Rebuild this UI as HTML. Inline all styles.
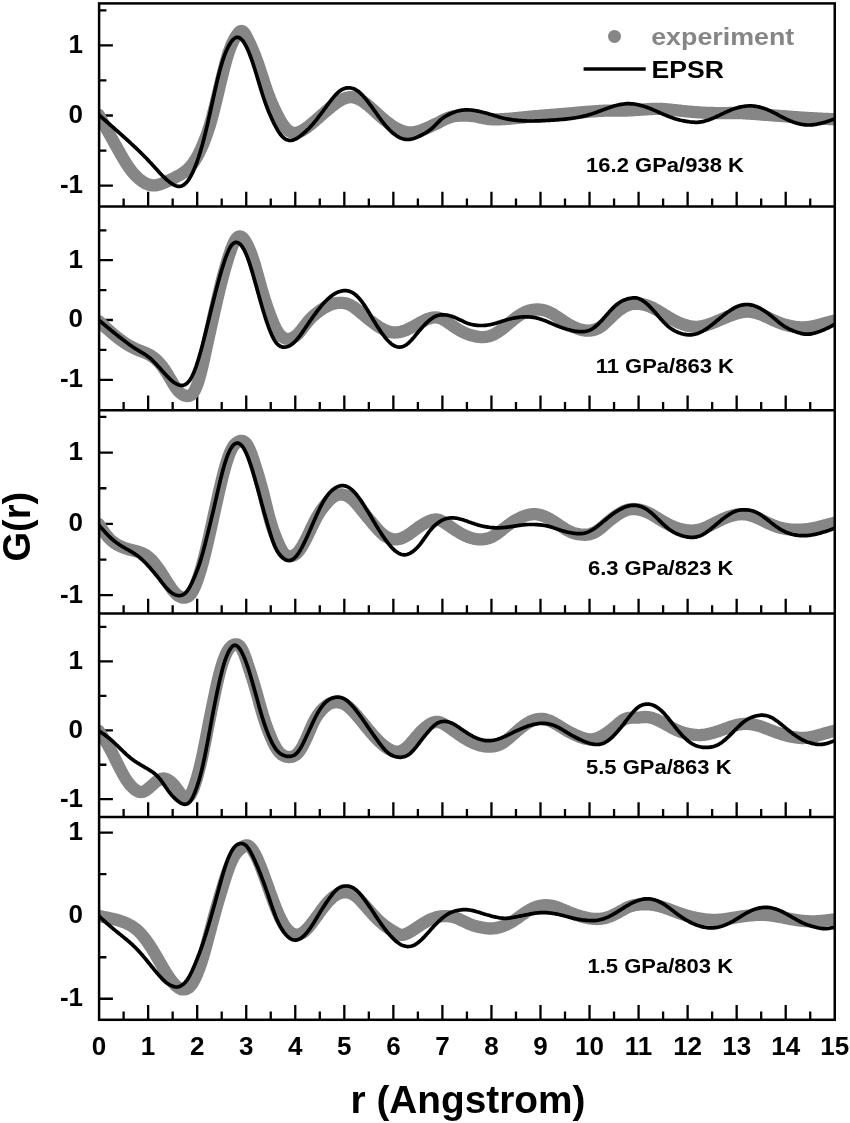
<!DOCTYPE html>
<html><head><meta charset="utf-8"><title>G(r)</title>
<style>html,body{margin:0;padding:0;background:#fff;overflow:hidden}svg{display:block}</style></head>
<body>
<svg width="850" height="1123" viewBox="0 0 850 1123" font-family="'Liberation Sans', sans-serif" font-weight="bold">
<rect width="850" height="1123" fill="#fff"/>
<defs><clipPath id="fr"><rect x="99.1" y="3.4" width="735.65" height="1016.4"/></clipPath></defs>
<path d="M123.62,206.6v-8.2 M148.14,206.6v-14.8 M172.66,206.6v-8.2 M197.19,206.6v-14.8 M221.71,206.6v-8.2 M246.23,206.6v-14.8 M270.75,206.6v-8.2 M295.27,206.6v-14.8 M319.79,206.6v-8.2 M344.32,206.6v-14.8 M368.84,206.6v-8.2 M393.36,206.6v-14.8 M417.88,206.6v-8.2 M442.40,206.6v-14.8 M466.92,206.6v-8.2 M491.45,206.6v-14.8 M515.97,206.6v-8.2 M540.49,206.6v-14.8 M565.01,206.6v-8.2 M589.53,206.6v-14.8 M614.06,206.6v-8.2 M638.58,206.6v-14.8 M663.10,206.6v-8.2 M687.62,206.6v-14.8 M712.14,206.6v-8.2 M736.66,206.6v-14.8 M761.18,206.6v-8.2 M785.71,206.6v-14.8 M810.23,206.6v-8.2 M123.62,410.3v-8.2 M148.14,410.3v-14.8 M172.66,410.3v-8.2 M197.19,410.3v-14.8 M221.71,410.3v-8.2 M246.23,410.3v-14.8 M270.75,410.3v-8.2 M295.27,410.3v-14.8 M319.79,410.3v-8.2 M344.32,410.3v-14.8 M368.84,410.3v-8.2 M393.36,410.3v-14.8 M417.88,410.3v-8.2 M442.40,410.3v-14.8 M466.92,410.3v-8.2 M491.45,410.3v-14.8 M515.97,410.3v-8.2 M540.49,410.3v-14.8 M565.01,410.3v-8.2 M589.53,410.3v-14.8 M614.06,410.3v-8.2 M638.58,410.3v-14.8 M663.10,410.3v-8.2 M687.62,410.3v-14.8 M712.14,410.3v-8.2 M736.66,410.3v-14.8 M761.18,410.3v-8.2 M785.71,410.3v-14.8 M810.23,410.3v-8.2 M123.62,613.5v-8.2 M148.14,613.5v-14.8 M172.66,613.5v-8.2 M197.19,613.5v-14.8 M221.71,613.5v-8.2 M246.23,613.5v-14.8 M270.75,613.5v-8.2 M295.27,613.5v-14.8 M319.79,613.5v-8.2 M344.32,613.5v-14.8 M368.84,613.5v-8.2 M393.36,613.5v-14.8 M417.88,613.5v-8.2 M442.40,613.5v-14.8 M466.92,613.5v-8.2 M491.45,613.5v-14.8 M515.97,613.5v-8.2 M540.49,613.5v-14.8 M565.01,613.5v-8.2 M589.53,613.5v-14.8 M614.06,613.5v-8.2 M638.58,613.5v-14.8 M663.10,613.5v-8.2 M687.62,613.5v-14.8 M712.14,613.5v-8.2 M736.66,613.5v-14.8 M761.18,613.5v-8.2 M785.71,613.5v-14.8 M810.23,613.5v-8.2 M123.62,817.1v-8.2 M148.14,817.1v-14.8 M172.66,817.1v-8.2 M197.19,817.1v-14.8 M221.71,817.1v-8.2 M246.23,817.1v-14.8 M270.75,817.1v-8.2 M295.27,817.1v-14.8 M319.79,817.1v-8.2 M344.32,817.1v-14.8 M368.84,817.1v-8.2 M393.36,817.1v-14.8 M417.88,817.1v-8.2 M442.40,817.1v-14.8 M466.92,817.1v-8.2 M491.45,817.1v-14.8 M515.97,817.1v-8.2 M540.49,817.1v-14.8 M565.01,817.1v-8.2 M589.53,817.1v-14.8 M614.06,817.1v-8.2 M638.58,817.1v-14.8 M663.10,817.1v-8.2 M687.62,817.1v-14.8 M712.14,817.1v-8.2 M736.66,817.1v-14.8 M761.18,817.1v-8.2 M785.71,817.1v-14.8 M810.23,817.1v-8.2 M123.62,1019.8v-8.2 M148.14,1019.8v-14.8 M172.66,1019.8v-8.2 M197.19,1019.8v-14.8 M221.71,1019.8v-8.2 M246.23,1019.8v-14.8 M270.75,1019.8v-8.2 M295.27,1019.8v-14.8 M319.79,1019.8v-8.2 M344.32,1019.8v-14.8 M368.84,1019.8v-8.2 M393.36,1019.8v-14.8 M417.88,1019.8v-8.2 M442.40,1019.8v-14.8 M466.92,1019.8v-8.2 M491.45,1019.8v-14.8 M515.97,1019.8v-8.2 M540.49,1019.8v-14.8 M565.01,1019.8v-8.2 M589.53,1019.8v-14.8 M614.06,1019.8v-8.2 M638.58,1019.8v-14.8 M663.10,1019.8v-8.2 M687.62,1019.8v-14.8 M712.14,1019.8v-8.2 M736.66,1019.8v-14.8 M761.18,1019.8v-8.2 M785.71,1019.8v-14.8 M810.23,1019.8v-8.2 M99.1,45.40h13.8 M99.1,115.50h13.8 M99.1,185.60h13.8 M99.1,10.35h7.3 M99.1,80.45h7.3 M99.1,150.55h7.3 M99.1,260.20h13.8 M99.1,320.00h13.8 M99.1,379.80h13.8 M99.1,230.30h7.3 M99.1,290.10h7.3 M99.1,349.90h7.3 M99.1,452.60h13.8 M99.1,523.90h13.8 M99.1,595.20h13.8 M99.1,416.95h7.3 M99.1,488.25h7.3 M99.1,559.55h7.3 M99.1,661.40h13.8 M99.1,730.30h13.8 M99.1,799.20h13.8 M99.1,626.95h7.3 M99.1,695.85h7.3 M99.1,764.75h7.3 M99.1,832.65h13.8 M99.1,915.70h13.8 M99.1,998.75h13.8 M99.1,874.18h7.3 M99.1,957.23h7.3" stroke="#000" stroke-width="2.3" fill="none"/>
<g clip-path="url(#fr)" fill="none" stroke-linejoin="round" stroke-linecap="round">
<path d="M98.8,115.0 L99.8,116.8 L100.8,118.6 L101.8,120.4 L102.8,122.2 L103.8,124.0 L104.8,125.8 L105.8,127.6 L106.8,129.4 L107.8,131.2 L108.8,133.0 L109.8,134.8 L110.8,136.6 L111.8,138.3 L112.8,140.1 L113.8,141.9 L114.8,143.7 L115.8,145.5 L116.8,147.3 L117.8,149.1 L118.8,150.8 L119.8,152.6 L120.8,154.4 L121.8,156.1 L122.8,157.8 L123.8,159.5 L124.8,161.2 L125.8,162.8 L126.8,164.4 L127.8,165.9 L128.8,167.4 L129.8,168.8 L130.8,170.1 L131.8,171.4 L132.8,172.6 L133.8,173.7 L134.8,174.8 L135.8,175.9 L136.8,176.8 L137.8,177.8 L138.8,178.7 L139.8,179.5 L140.8,180.3 L141.8,181.0 L142.8,181.7 L143.8,182.3 L144.8,182.9 L145.8,183.4 L146.8,183.9 L147.8,184.3 L148.8,184.6 L149.8,184.9 L150.8,185.1 L151.8,185.3 L152.8,185.4 L153.8,185.4 L154.8,185.4 L155.8,185.3 L156.8,185.1 L157.8,184.9 L158.8,184.6 L159.8,184.3 L160.8,184.0 L161.8,183.6 L162.8,183.2 L163.8,182.8 L164.8,182.4 L165.8,181.9 L166.8,181.5 L167.8,181.0 L168.8,180.5 L169.8,180.1 L170.8,179.6 L171.8,179.1 L172.8,178.7 L173.8,178.2 L174.8,177.7 L175.8,177.1 L176.8,176.6 L177.8,176.1 L178.8,175.5 L179.8,174.9 L180.8,174.4 L181.8,173.8 L182.8,173.1 L183.8,172.4 L184.8,171.7 L185.8,170.9 L186.8,170.1 L187.8,169.2 L188.8,168.2 L189.8,167.2 L190.8,166.0 L191.8,164.8 L192.8,163.5 L193.8,162.0 L194.8,160.5 L195.8,158.9 L196.8,157.2 L197.8,155.4 L198.8,153.5 L199.8,151.4 L200.8,149.3 L201.8,147.1 L202.8,144.9 L203.8,142.4 L204.8,139.9 L205.8,137.3 L206.8,134.5 L207.8,131.6 L208.8,128.5 L209.8,125.3 L210.8,121.9 L211.8,118.3 L212.8,114.6 L213.8,110.7 L214.8,106.8 L215.8,102.7 L216.8,98.5 L217.8,94.3 L218.8,90.1 L219.8,85.9 L220.8,81.7 L221.8,77.6 L222.8,73.5 L223.8,69.5 L224.8,65.7 L225.8,61.9 L226.8,58.4 L227.8,55.1 L228.8,52.0 L229.8,49.2 L230.8,46.6 L231.8,44.2 L232.8,42.1 L233.8,40.1 L234.8,38.3 L235.8,36.6 L236.8,35.1 L237.8,33.7 L238.8,32.5 L239.8,31.6 L240.8,31.1 L241.8,31.0 L242.8,31.4 L243.8,32.3 L244.8,33.6 L245.8,35.1 L246.8,37.0 L247.8,39.0 L248.8,41.1 L249.8,43.2 L250.8,45.4 L251.8,47.7 L252.8,50.0 L253.8,52.4 L254.8,54.8 L255.8,57.4 L256.8,60.1 L257.8,62.9 L258.8,65.8 L259.8,68.7 L260.8,71.8 L261.8,74.9 L262.8,78.0 L263.8,81.1 L264.8,84.2 L265.8,87.1 L266.8,90.1 L267.8,92.9 L268.8,95.5 L269.8,98.1 L270.8,100.6 L271.8,103.0 L272.8,105.3 L273.8,107.5 L274.8,109.6 L275.8,111.7 L276.8,113.7 L277.8,115.7 L278.8,117.6 L279.8,119.4 L280.8,121.2 L281.8,122.8 L282.8,124.4 L283.8,125.8 L284.8,127.1 L285.8,128.3 L286.8,129.3 L287.8,130.2 L288.8,131.0 L289.8,131.6 L290.8,132.1 L291.8,132.5 L292.8,132.7 L293.8,132.9 L294.8,132.9 L295.8,132.9 L296.8,132.7 L297.8,132.5 L298.8,132.2 L299.8,131.8 L300.8,131.3 L301.8,130.8 L302.8,130.2 L303.8,129.6 L304.8,129.0 L305.8,128.3 L306.8,127.6 L307.8,126.8 L308.8,126.0 L309.8,125.3 L310.8,124.4 L311.8,123.6 L312.8,122.8 L313.8,121.9 L314.8,121.1 L315.8,120.2 L316.8,119.3 L317.8,118.4 L318.8,117.6 L319.8,116.7 L320.8,115.8 L321.8,114.9 L322.8,114.0 L323.8,113.2 L324.8,112.3 L325.8,111.4 L326.8,110.6 L327.8,109.8 L328.8,108.9 L329.8,108.1 L330.8,107.3 L331.8,106.5 L332.8,105.7 L333.8,104.9 L334.8,104.2 L335.8,103.4 L336.8,102.7 L337.8,102.0 L338.8,101.4 L339.8,100.7 L340.8,100.2 L341.8,99.6 L342.8,99.1 L343.8,98.7 L344.8,98.3 L345.8,97.9 L346.8,97.7 L347.8,97.5 L348.8,97.3 L349.8,97.2 L350.8,97.2 L351.8,97.2 L352.8,97.3 L353.8,97.5 L354.8,97.7 L355.8,98.0 L356.8,98.3 L357.8,98.7 L358.8,99.2 L359.8,99.7 L360.8,100.2 L361.8,100.8 L362.8,101.5 L363.8,102.1 L364.8,102.9 L365.8,103.6 L366.8,104.4 L367.8,105.2 L368.8,106.0 L369.8,106.9 L370.8,107.7 L371.8,108.6 L372.8,109.5 L373.8,110.4 L374.8,111.3 L375.8,112.3 L376.8,113.2 L377.8,114.1 L378.8,115.0 L379.8,115.9 L380.8,116.8 L381.8,117.7 L382.8,118.5 L383.8,119.4 L384.8,120.2 L385.8,121.0 L386.8,121.8 L387.8,122.6 L388.8,123.4 L389.8,124.1 L390.8,124.8 L391.8,125.5 L392.8,126.2 L393.8,126.8 L394.8,127.4 L395.8,128.0 L396.8,128.5 L397.8,129.1 L398.8,129.5 L399.8,130.0 L400.8,130.4 L401.8,130.8 L402.8,131.1 L403.8,131.4 L404.8,131.7 L405.8,132.0 L406.8,132.2 L407.8,132.3 L408.8,132.4 L409.8,132.5 L410.8,132.5 L411.8,132.5 L412.8,132.4 L413.8,132.3 L414.8,132.1 L415.8,131.9 L416.8,131.7 L417.8,131.4 L418.8,131.1 L419.8,130.8 L420.8,130.4 L421.8,130.1 L422.8,129.7 L423.8,129.3 L424.8,128.9 L425.8,128.5 L426.8,128.0 L427.8,127.6 L428.8,127.2 L429.8,126.7 L430.8,126.2 L431.8,125.8 L432.8,125.3 L433.8,124.8 L434.8,124.3 L435.8,123.9 L436.8,123.4 L437.8,122.9 L438.8,122.4 L439.8,121.9 L440.8,121.3 L441.8,120.8 L442.8,120.3 L443.8,119.8 L444.8,119.3 L445.8,118.9 L446.8,118.4 L447.8,118.0 L448.8,117.6 L449.8,117.3 L450.8,117.0 L451.8,116.7 L452.8,116.5 L453.8,116.3 L454.8,116.1 L455.8,116.0 L456.8,115.9 L457.8,115.8 L458.8,115.7 L459.8,115.7 L460.8,115.6 L461.8,115.6 L462.8,115.6 L463.8,115.6 L464.8,115.6 L465.8,115.6 L466.8,115.6 L467.8,115.6 L468.8,115.7 L469.8,115.8 L470.8,115.8 L471.8,115.9 L472.8,116.1 L473.8,116.2 L474.8,116.3 L475.8,116.5 L476.8,116.7 L477.8,116.9 L478.8,117.2 L479.8,117.4 L480.8,117.6 L481.8,117.8 L482.8,118.0 L483.8,118.3 L484.8,118.5 L485.8,118.6 L486.8,118.8 L487.8,118.9 L488.8,119.1 L489.8,119.2 L490.8,119.2 L491.8,119.3 L492.8,119.3 L493.8,119.4 L494.8,119.4 L495.8,119.4 L496.8,119.4 L497.8,119.3 L498.8,119.3 L499.8,119.3 L500.8,119.2 L501.8,119.2 L502.8,119.1 L503.8,119.1 L504.8,119.0 L505.8,119.0 L506.8,118.9 L507.8,118.8 L508.8,118.8 L509.8,118.7 L510.8,118.6 L511.8,118.5 L512.8,118.4 L513.8,118.3 L514.8,118.2 L515.8,118.1 L516.8,118.0 L517.8,117.9 L518.8,117.8 L519.8,117.7 L520.8,117.6 L521.8,117.5 L522.8,117.4 L523.8,117.3 L524.8,117.2 L525.8,117.1 L526.8,117.0 L527.8,116.9 L528.8,116.8 L529.8,116.7 L530.8,116.6 L531.8,116.5 L532.8,116.4 L533.8,116.3 L534.8,116.2 L535.8,116.2 L536.8,116.1 L537.8,116.0 L538.8,115.9 L539.8,115.8 L540.8,115.7 L541.8,115.6 L542.8,115.6 L543.8,115.5 L544.8,115.4 L545.8,115.3 L546.8,115.2 L547.8,115.2 L548.8,115.1 L549.8,115.0 L550.8,114.9 L551.8,114.8 L552.8,114.8 L553.8,114.7 L554.8,114.6 L555.8,114.5 L556.8,114.4 L557.8,114.4 L558.8,114.3 L559.8,114.2 L560.8,114.1 L561.8,114.0 L562.8,114.0 L563.8,113.9 L564.8,113.8 L565.8,113.7 L566.8,113.6 L567.8,113.5 L568.8,113.4 L569.8,113.3 L570.8,113.3 L571.8,113.2 L572.8,113.1 L573.8,113.0 L574.8,112.9 L575.8,112.8 L576.8,112.7 L577.8,112.6 L578.8,112.5 L579.8,112.5 L580.8,112.4 L581.8,112.3 L582.8,112.2 L583.8,112.1 L584.8,112.0 L585.8,112.0 L586.8,111.9 L587.8,111.8 L588.8,111.7 L589.8,111.6 L590.8,111.6 L591.8,111.5 L592.8,111.4 L593.8,111.3 L594.8,111.3 L595.8,111.2 L596.8,111.1 L597.8,111.1 L598.8,111.0 L599.8,110.9 L600.8,110.9 L601.8,110.8 L602.8,110.8 L603.8,110.7 L604.8,110.7 L605.8,110.7 L606.8,110.6 L607.8,110.6 L608.8,110.6 L609.8,110.6 L610.8,110.6 L611.8,110.6 L612.8,110.6 L613.8,110.6 L614.8,110.6 L615.8,110.6 L616.8,110.6 L617.8,110.6 L618.8,110.6 L619.8,110.6 L620.8,110.6 L621.8,110.6 L622.8,110.6 L623.8,110.6 L624.8,110.6 L625.8,110.5 L626.8,110.5 L627.8,110.5 L628.8,110.4 L629.8,110.4 L630.8,110.3 L631.8,110.3 L632.8,110.2 L633.8,110.1 L634.8,110.1 L635.8,110.0 L636.8,109.9 L637.8,109.9 L638.8,109.8 L639.8,109.7 L640.8,109.7 L641.8,109.6 L642.8,109.5 L643.8,109.5 L644.8,109.4 L645.8,109.3 L646.8,109.3 L647.8,109.2 L648.8,109.2 L649.8,109.1 L650.8,109.0 L651.8,109.0 L652.8,109.0 L653.8,108.9 L654.8,108.9 L655.8,108.9 L656.8,108.9 L657.8,108.9 L658.8,108.9 L659.8,108.9 L660.8,108.9 L661.8,109.0 L662.8,109.0 L663.8,109.1 L664.8,109.1 L665.8,109.2 L666.8,109.3 L667.8,109.4 L668.8,109.5 L669.8,109.6 L670.8,109.7 L671.8,109.8 L672.8,109.9 L673.8,110.0 L674.8,110.1 L675.8,110.2 L676.8,110.3 L677.8,110.4 L678.8,110.5 L679.8,110.6 L680.8,110.8 L681.8,110.9 L682.8,111.0 L683.8,111.1 L684.8,111.2 L685.8,111.3 L686.8,111.4 L687.8,111.5 L688.8,111.6 L689.8,111.7 L690.8,111.7 L691.8,111.8 L692.8,111.9 L693.8,112.0 L694.8,112.1 L695.8,112.2 L696.8,112.2 L697.8,112.3 L698.8,112.4 L699.8,112.4 L700.8,112.5 L701.8,112.6 L702.8,112.6 L703.8,112.7 L704.8,112.7 L705.8,112.8 L706.8,112.8 L707.8,112.9 L708.8,112.9 L709.8,112.9 L710.8,113.0 L711.8,113.0 L712.8,113.0 L713.8,113.0 L714.8,113.1 L715.8,113.1 L716.8,113.1 L717.8,113.1 L718.8,113.1 L719.8,113.1 L720.8,113.1 L721.8,113.1 L722.8,113.1 L723.8,113.1 L724.8,113.1 L725.8,113.1 L726.8,113.1 L727.8,113.1 L728.8,113.0 L729.8,113.0 L730.8,113.0 L731.8,113.0 L732.8,113.0 L733.8,113.0 L734.8,113.0 L735.8,113.0 L736.8,113.1 L737.8,113.1 L738.8,113.1 L739.8,113.1 L740.8,113.2 L741.8,113.2 L742.8,113.2 L743.8,113.3 L744.8,113.3 L745.8,113.4 L746.8,113.5 L747.8,113.5 L748.8,113.6 L749.8,113.7 L750.8,113.7 L751.8,113.8 L752.8,113.9 L753.8,113.9 L754.8,114.0 L755.8,114.1 L756.8,114.2 L757.8,114.2 L758.8,114.3 L759.8,114.4 L760.8,114.5 L761.8,114.6 L762.8,114.6 L763.8,114.7 L764.8,114.8 L765.8,114.9 L766.8,114.9 L767.8,115.0 L768.8,115.1 L769.8,115.2 L770.8,115.2 L771.8,115.3 L772.8,115.4 L773.8,115.5 L774.8,115.5 L775.8,115.6 L776.8,115.7 L777.8,115.8 L778.8,115.8 L779.8,115.9 L780.8,116.0 L781.8,116.1 L782.8,116.2 L783.8,116.2 L784.8,116.3 L785.8,116.4 L786.8,116.5 L787.8,116.5 L788.8,116.6 L789.8,116.7 L790.8,116.8 L791.8,116.8 L792.8,116.9 L793.8,117.0 L794.8,117.1 L795.8,117.1 L796.8,117.2 L797.8,117.3 L798.8,117.4 L799.8,117.4 L800.8,117.5 L801.8,117.6 L802.8,117.6 L803.8,117.7 L804.8,117.8 L805.8,117.8 L806.8,117.9 L807.8,117.9 L808.8,118.0 L809.8,118.1 L810.8,118.1 L811.8,118.2 L812.8,118.2 L813.8,118.3 L814.8,118.3 L815.8,118.4 L816.8,118.5 L817.8,118.5 L818.8,118.6 L819.8,118.6 L820.8,118.7 L821.8,118.7 L822.8,118.8 L823.8,118.8 L824.8,118.9 L825.8,118.9 L826.8,118.9 L827.8,119.0 L828.8,119.0 L829.8,119.1 L830.8,119.1 L831.8,119.2 L832.8,119.2 L833.8,119.3 L834.5,119.3" stroke="#868686" stroke-width="12.3"/>
<path d="M98.8,321.1 L99.8,322.0 L100.8,323.0 L101.8,323.9 L102.8,324.8 L103.8,325.7 L104.8,326.6 L105.8,327.6 L106.8,328.5 L107.8,329.4 L108.8,330.3 L109.8,331.1 L110.8,332.0 L111.8,332.9 L112.8,333.7 L113.8,334.6 L114.8,335.4 L115.8,336.2 L116.8,337.0 L117.8,337.8 L118.8,338.6 L119.8,339.3 L120.8,340.1 L121.8,340.8 L122.8,341.5 L123.8,342.2 L124.8,342.9 L125.8,343.5 L126.8,344.2 L127.8,344.8 L128.8,345.4 L129.8,346.0 L130.8,346.6 L131.8,347.1 L132.8,347.6 L133.8,348.1 L134.8,348.6 L135.8,349.0 L136.8,349.5 L137.8,349.9 L138.8,350.3 L139.8,350.7 L140.8,351.0 L141.8,351.4 L142.8,351.8 L143.8,352.2 L144.8,352.6 L145.8,353.0 L146.8,353.5 L147.8,353.9 L148.8,354.5 L149.8,355.0 L150.8,355.6 L151.8,356.3 L152.8,356.9 L153.8,357.7 L154.8,358.5 L155.8,359.3 L156.8,360.3 L157.8,361.2 L158.8,362.3 L159.8,363.4 L160.8,364.6 L161.8,365.8 L162.8,367.1 L163.8,368.5 L164.8,370.0 L165.8,371.5 L166.8,373.0 L167.8,374.6 L168.8,376.3 L169.8,378.0 L170.8,379.7 L171.8,381.4 L172.8,383.1 L173.8,384.7 L174.8,386.3 L175.8,387.8 L176.8,389.1 L177.8,390.4 L178.8,391.5 L179.8,392.5 L180.8,393.3 L181.8,394.1 L182.8,394.7 L183.8,395.2 L184.8,395.6 L185.8,395.8 L186.8,396.0 L187.8,396.0 L188.8,395.9 L189.8,395.6 L190.8,395.1 L191.8,394.4 L192.8,393.3 L193.8,392.0 L194.8,390.3 L195.8,388.2 L196.8,385.9 L197.8,383.1 L198.8,380.1 L199.8,376.6 L200.8,372.9 L201.8,368.8 L202.8,364.5 L203.8,360.1 L204.8,355.5 L205.8,350.9 L206.8,346.3 L207.8,341.7 L208.8,337.1 L209.8,332.6 L210.8,328.1 L211.8,323.6 L212.8,319.1 L213.8,314.6 L214.8,310.2 L215.8,305.8 L216.8,301.4 L217.8,297.1 L218.8,292.9 L219.8,288.7 L220.8,284.7 L221.8,280.7 L222.8,276.9 L223.8,273.2 L224.8,269.6 L225.8,266.1 L226.8,262.7 L227.8,259.4 L228.8,256.2 L229.8,253.2 L230.8,250.2 L231.8,247.5 L232.8,245.0 L233.8,242.8 L234.8,240.9 L235.8,239.2 L236.8,238.0 L237.8,237.1 L238.8,236.5 L239.8,236.4 L240.8,236.5 L241.8,237.0 L242.8,237.9 L243.8,239.0 L244.8,240.3 L245.8,241.9 L246.8,243.7 L247.8,245.6 L248.8,247.8 L249.8,250.1 L250.8,252.6 L251.8,255.3 L252.8,258.2 L253.8,261.3 L254.8,264.6 L255.8,268.1 L256.8,271.6 L257.8,275.2 L258.8,278.9 L259.8,282.5 L260.8,286.1 L261.8,289.6 L262.8,293.0 L263.8,296.3 L264.8,299.5 L265.8,302.6 L266.8,305.6 L267.8,308.5 L268.8,311.3 L269.8,314.1 L270.8,316.7 L271.8,319.3 L272.8,321.8 L273.8,324.1 L274.8,326.3 L275.8,328.4 L276.8,330.2 L277.8,331.9 L278.8,333.4 L279.8,334.7 L280.8,335.7 L281.8,336.6 L282.8,337.3 L283.8,337.9 L284.8,338.3 L285.8,338.6 L286.8,338.8 L287.8,338.9 L288.8,338.8 L289.8,338.7 L290.8,338.5 L291.8,338.2 L292.8,337.8 L293.8,337.3 L294.8,336.6 L295.8,335.9 L296.8,335.0 L297.8,334.1 L298.8,333.0 L299.8,331.9 L300.8,330.6 L301.8,329.4 L302.8,328.1 L303.8,326.8 L304.8,325.5 L305.8,324.2 L306.8,322.9 L307.8,321.7 L308.8,320.5 L309.8,319.4 L310.8,318.3 L311.8,317.3 L312.8,316.4 L313.8,315.5 L314.8,314.6 L315.8,313.8 L316.8,313.0 L317.8,312.2 L318.8,311.5 L319.8,310.7 L320.8,310.0 L321.8,309.4 L322.8,308.7 L323.8,308.1 L324.8,307.5 L325.8,306.9 L326.8,306.4 L327.8,305.9 L328.8,305.4 L329.8,305.0 L330.8,304.6 L331.8,304.2 L332.8,303.9 L333.8,303.6 L334.8,303.4 L335.8,303.2 L336.8,303.0 L337.8,302.9 L338.8,302.8 L339.8,302.8 L340.8,302.8 L341.8,302.8 L342.8,302.9 L343.8,303.0 L344.8,303.2 L345.8,303.4 L346.8,303.7 L347.8,304.0 L348.8,304.4 L349.8,304.8 L350.8,305.3 L351.8,305.9 L352.8,306.5 L353.8,307.1 L354.8,307.9 L355.8,308.6 L356.8,309.4 L357.8,310.2 L358.8,311.0 L359.8,311.9 L360.8,312.7 L361.8,313.6 L362.8,314.4 L363.8,315.3 L364.8,316.1 L365.8,317.0 L366.8,317.8 L367.8,318.6 L368.8,319.4 L369.8,320.2 L370.8,321.0 L371.8,321.8 L372.8,322.5 L373.8,323.3 L374.8,324.0 L375.8,324.7 L376.8,325.4 L377.8,326.1 L378.8,326.8 L379.8,327.4 L380.8,328.0 L381.8,328.6 L382.8,329.1 L383.8,329.7 L384.8,330.1 L385.8,330.6 L386.8,330.9 L387.8,331.3 L388.8,331.6 L389.8,331.9 L390.8,332.1 L391.8,332.3 L392.8,332.4 L393.8,332.5 L394.8,332.5 L395.8,332.5 L396.8,332.4 L397.8,332.3 L398.8,332.2 L399.8,332.0 L400.8,331.8 L401.8,331.5 L402.8,331.2 L403.8,330.9 L404.8,330.6 L405.8,330.2 L406.8,329.8 L407.8,329.3 L408.8,328.8 L409.8,328.3 L410.8,327.8 L411.8,327.3 L412.8,326.8 L413.8,326.2 L414.8,325.7 L415.8,325.1 L416.8,324.5 L417.8,324.0 L418.8,323.4 L419.8,322.8 L420.8,322.3 L421.8,321.7 L422.8,321.2 L423.8,320.7 L424.8,320.2 L425.8,319.8 L426.8,319.3 L427.8,318.9 L428.8,318.6 L429.8,318.3 L430.8,318.0 L431.8,317.8 L432.8,317.6 L433.8,317.5 L434.8,317.4 L435.8,317.4 L436.8,317.5 L437.8,317.6 L438.8,317.8 L439.8,318.1 L440.8,318.4 L441.8,318.8 L442.8,319.3 L443.8,319.9 L444.8,320.4 L445.8,321.1 L446.8,321.7 L447.8,322.4 L448.8,323.1 L449.8,323.8 L450.8,324.5 L451.8,325.2 L452.8,325.9 L453.8,326.6 L454.8,327.3 L455.8,327.9 L456.8,328.6 L457.8,329.2 L458.8,329.8 L459.8,330.4 L460.8,331.0 L461.8,331.5 L462.8,332.1 L463.8,332.5 L464.8,333.0 L465.8,333.4 L466.8,333.8 L467.8,334.2 L468.8,334.5 L469.8,334.8 L470.8,335.2 L471.8,335.4 L472.8,335.7 L473.8,335.9 L474.8,336.2 L475.8,336.4 L476.8,336.6 L477.8,336.7 L478.8,336.9 L479.8,337.0 L480.8,337.1 L481.8,337.1 L482.8,337.1 L483.8,337.1 L484.8,337.0 L485.8,336.9 L486.8,336.7 L487.8,336.5 L488.8,336.3 L489.8,336.0 L490.8,335.6 L491.8,335.3 L492.8,334.9 L493.8,334.4 L494.8,333.9 L495.8,333.3 L496.8,332.8 L497.8,332.1 L498.8,331.5 L499.8,330.8 L500.8,330.1 L501.8,329.3 L502.8,328.6 L503.8,327.8 L504.8,327.0 L505.8,326.2 L506.8,325.3 L507.8,324.5 L508.8,323.6 L509.8,322.8 L510.8,321.9 L511.8,321.1 L512.8,320.3 L513.8,319.4 L514.8,318.6 L515.8,317.9 L516.8,317.1 L517.8,316.4 L518.8,315.7 L519.8,315.0 L520.8,314.4 L521.8,313.8 L522.8,313.2 L523.8,312.7 L524.8,312.2 L525.8,311.8 L526.8,311.4 L527.8,311.0 L528.8,310.7 L529.8,310.4 L530.8,310.2 L531.8,310.0 L532.8,309.8 L533.8,309.7 L534.8,309.6 L535.8,309.5 L536.8,309.5 L537.8,309.5 L538.8,309.5 L539.8,309.6 L540.8,309.7 L541.8,309.9 L542.8,310.1 L543.8,310.3 L544.8,310.5 L545.8,310.8 L546.8,311.2 L547.8,311.6 L548.8,312.0 L549.8,312.5 L550.8,313.0 L551.8,313.5 L552.8,314.1 L553.8,314.6 L554.8,315.3 L555.8,315.9 L556.8,316.5 L557.8,317.2 L558.8,317.9 L559.8,318.6 L560.8,319.2 L561.8,319.9 L562.8,320.6 L563.8,321.2 L564.8,321.9 L565.8,322.5 L566.8,323.2 L567.8,323.8 L568.8,324.4 L569.8,324.9 L570.8,325.5 L571.8,326.0 L572.8,326.6 L573.8,327.0 L574.8,327.5 L575.8,327.9 L576.8,328.3 L577.8,328.7 L578.8,329.1 L579.8,329.4 L580.8,329.7 L581.8,329.9 L582.8,330.1 L583.8,330.3 L584.8,330.4 L585.8,330.6 L586.8,330.6 L587.8,330.6 L588.8,330.6 L589.8,330.6 L590.8,330.5 L591.8,330.3 L592.8,330.1 L593.8,329.9 L594.8,329.6 L595.8,329.3 L596.8,328.8 L597.8,328.4 L598.8,327.9 L599.8,327.3 L600.8,326.6 L601.8,325.9 L602.8,325.1 L603.8,324.2 L604.8,323.4 L605.8,322.4 L606.8,321.5 L607.8,320.5 L608.8,319.6 L609.8,318.6 L610.8,317.6 L611.8,316.7 L612.8,315.7 L613.8,314.8 L614.8,313.9 L615.8,313.0 L616.8,312.2 L617.8,311.3 L618.8,310.5 L619.8,309.8 L620.8,309.1 L621.8,308.4 L622.8,307.8 L623.8,307.2 L624.8,306.6 L625.8,306.1 L626.8,305.7 L627.8,305.2 L628.8,304.9 L629.8,304.6 L630.8,304.3 L631.8,304.1 L632.8,304.0 L633.8,303.9 L634.8,303.8 L635.8,303.8 L636.8,303.8 L637.8,303.8 L638.8,303.9 L639.8,304.0 L640.8,304.1 L641.8,304.3 L642.8,304.4 L643.8,304.6 L644.8,304.9 L645.8,305.1 L646.8,305.4 L647.8,305.8 L648.8,306.1 L649.8,306.5 L650.8,306.9 L651.8,307.4 L652.8,307.8 L653.8,308.4 L654.8,308.9 L655.8,309.4 L656.8,310.0 L657.8,310.6 L658.8,311.2 L659.8,311.8 L660.8,312.4 L661.8,313.0 L662.8,313.6 L663.8,314.3 L664.8,314.9 L665.8,315.5 L666.8,316.1 L667.8,316.8 L668.8,317.4 L669.8,318.0 L670.8,318.5 L671.8,319.1 L672.8,319.7 L673.8,320.2 L674.8,320.8 L675.8,321.3 L676.8,321.8 L677.8,322.2 L678.8,322.7 L679.8,323.1 L680.8,323.5 L681.8,323.9 L682.8,324.3 L683.8,324.6 L684.8,324.9 L685.8,325.2 L686.8,325.5 L687.8,325.8 L688.8,326.0 L689.8,326.2 L690.8,326.4 L691.8,326.5 L692.8,326.6 L693.8,326.7 L694.8,326.8 L695.8,326.8 L696.8,326.8 L697.8,326.8 L698.8,326.7 L699.8,326.6 L700.8,326.4 L701.8,326.2 L702.8,326.0 L703.8,325.8 L704.8,325.6 L705.8,325.3 L706.8,325.0 L707.8,324.7 L708.8,324.4 L709.8,324.0 L710.8,323.7 L711.8,323.3 L712.8,322.9 L713.8,322.5 L714.8,322.1 L715.8,321.7 L716.8,321.3 L717.8,320.8 L718.8,320.4 L719.8,320.0 L720.8,319.6 L721.8,319.1 L722.8,318.7 L723.8,318.3 L724.8,317.9 L725.8,317.5 L726.8,317.0 L727.8,316.6 L728.8,316.2 L729.8,315.9 L730.8,315.5 L731.8,315.1 L732.8,314.8 L733.8,314.4 L734.8,314.1 L735.8,313.7 L736.8,313.4 L737.8,313.1 L738.8,312.9 L739.8,312.6 L740.8,312.4 L741.8,312.2 L742.8,312.0 L743.8,311.9 L744.8,311.8 L745.8,311.7 L746.8,311.7 L747.8,311.7 L748.8,311.7 L749.8,311.8 L750.8,311.9 L751.8,312.0 L752.8,312.2 L753.8,312.4 L754.8,312.6 L755.8,312.9 L756.8,313.2 L757.8,313.5 L758.8,313.8 L759.8,314.2 L760.8,314.5 L761.8,314.9 L762.8,315.3 L763.8,315.8 L764.8,316.2 L765.8,316.7 L766.8,317.1 L767.8,317.6 L768.8,318.1 L769.8,318.5 L770.8,319.0 L771.8,319.5 L772.8,320.0 L773.8,320.4 L774.8,320.9 L775.8,321.3 L776.8,321.7 L777.8,322.1 L778.8,322.5 L779.8,322.9 L780.8,323.3 L781.8,323.6 L782.8,324.0 L783.8,324.3 L784.8,324.6 L785.8,324.9 L786.8,325.2 L787.8,325.4 L788.8,325.7 L789.8,325.9 L790.8,326.1 L791.8,326.3 L792.8,326.5 L793.8,326.7 L794.8,326.8 L795.8,326.9 L796.8,327.0 L797.8,327.1 L798.8,327.2 L799.8,327.3 L800.8,327.3 L801.8,327.3 L802.8,327.3 L803.8,327.3 L804.8,327.3 L805.8,327.2 L806.8,327.1 L807.8,327.0 L808.8,326.9 L809.8,326.8 L810.8,326.7 L811.8,326.5 L812.8,326.3 L813.8,326.1 L814.8,325.9 L815.8,325.7 L816.8,325.4 L817.8,325.2 L818.8,324.9 L819.8,324.6 L820.8,324.3 L821.8,324.1 L822.8,323.8 L823.8,323.5 L824.8,323.2 L825.8,322.9 L826.8,322.7 L827.8,322.4 L828.8,322.1 L829.8,321.8 L830.8,321.6 L831.8,321.3 L832.8,321.0 L833.8,320.8 L834.5,320.6" stroke="#868686" stroke-width="12.3"/>
<path d="M98.8,524.1 L99.8,525.6 L100.8,527.2 L101.8,528.7 L102.8,530.2 L103.8,531.6 L104.8,533.0 L105.8,534.4 L106.8,535.6 L107.8,536.8 L108.8,538.0 L109.8,539.0 L110.8,540.0 L111.8,540.8 L112.8,541.7 L113.8,542.4 L114.8,543.1 L115.8,543.8 L116.8,544.4 L117.8,544.9 L118.8,545.5 L119.8,545.9 L120.8,546.4 L121.8,546.9 L122.8,547.3 L123.8,547.7 L124.8,548.1 L125.8,548.4 L126.8,548.7 L127.8,549.1 L128.8,549.4 L129.8,549.6 L130.8,549.9 L131.8,550.1 L132.8,550.4 L133.8,550.6 L134.8,550.9 L135.8,551.1 L136.8,551.4 L137.8,551.6 L138.8,551.9 L139.8,552.3 L140.8,552.6 L141.8,553.0 L142.8,553.5 L143.8,554.0 L144.8,554.5 L145.8,555.1 L146.8,555.8 L147.8,556.5 L148.8,557.3 L149.8,558.2 L150.8,559.1 L151.8,560.1 L152.8,561.2 L153.8,562.4 L154.8,563.6 L155.8,564.9 L156.8,566.2 L157.8,567.6 L158.8,569.0 L159.8,570.5 L160.8,572.0 L161.8,573.5 L162.8,575.1 L163.8,576.7 L164.8,578.2 L165.8,579.8 L166.8,581.4 L167.8,583.0 L168.8,584.5 L169.8,586.0 L170.8,587.5 L171.8,588.9 L172.8,590.2 L173.8,591.4 L174.8,592.6 L175.8,593.6 L176.8,594.6 L177.8,595.4 L178.8,596.1 L179.8,596.6 L180.8,597.1 L181.8,597.4 L182.8,597.6 L183.8,597.6 L184.8,597.6 L185.8,597.4 L186.8,597.1 L187.8,596.7 L188.8,596.0 L189.8,595.2 L190.8,594.1 L191.8,592.7 L192.8,591.0 L193.8,589.0 L194.8,586.9 L195.8,584.4 L196.8,581.8 L197.8,579.0 L198.8,576.0 L199.8,572.9 L200.8,569.6 L201.8,566.1 L202.8,562.5 L203.8,558.7 L204.8,554.7 L205.8,550.6 L206.8,546.4 L207.8,542.1 L208.8,537.8 L209.8,533.3 L210.8,528.8 L211.8,524.3 L212.8,519.7 L213.8,515.2 L214.8,510.6 L215.8,506.1 L216.8,501.6 L217.8,497.1 L218.8,492.7 L219.8,488.4 L220.8,484.1 L221.8,480.0 L222.8,476.0 L223.8,472.1 L224.8,468.4 L225.8,464.9 L226.8,461.6 L227.8,458.5 L228.8,455.6 L229.8,453.0 L230.8,450.7 L231.8,448.7 L232.8,447.0 L233.8,445.5 L234.8,444.4 L235.8,443.4 L236.8,442.7 L237.8,442.0 L238.8,441.5 L239.8,441.1 L240.8,440.9 L241.8,440.8 L242.8,441.0 L243.8,441.4 L244.8,442.0 L245.8,443.0 L246.8,444.2 L247.8,445.8 L248.8,447.7 L249.8,449.9 L250.8,452.3 L251.8,455.0 L252.8,457.9 L253.8,460.9 L254.8,464.0 L255.8,467.1 L256.8,470.3 L257.8,473.6 L258.8,476.9 L259.8,480.4 L260.8,483.9 L261.8,487.6 L262.8,491.4 L263.8,495.3 L264.8,499.3 L265.8,503.5 L266.8,507.5 L267.8,511.6 L268.8,515.5 L269.8,519.2 L270.8,522.7 L271.8,525.9 L272.8,529.0 L273.8,531.8 L274.8,534.5 L275.8,537.1 L276.8,539.5 L277.8,541.9 L278.8,544.2 L279.8,546.4 L280.8,548.3 L281.8,550.1 L282.8,551.7 L283.8,553.1 L284.8,554.2 L285.8,555.0 L286.8,555.6 L287.8,556.0 L288.8,556.2 L289.8,556.3 L290.8,556.2 L291.8,556.0 L292.8,555.7 L293.8,555.3 L294.8,554.7 L295.8,554.1 L296.8,553.2 L297.8,552.3 L298.8,551.1 L299.8,549.8 L300.8,548.4 L301.8,546.8 L302.8,545.1 L303.8,543.3 L304.8,541.5 L305.8,539.5 L306.8,537.5 L307.8,535.4 L308.8,533.3 L309.8,531.3 L310.8,529.1 L311.8,527.1 L312.8,525.0 L313.8,523.0 L314.8,521.0 L315.8,519.1 L316.8,517.2 L317.8,515.5 L318.8,513.8 L319.8,512.2 L320.8,510.7 L321.8,509.3 L322.8,508.0 L323.8,506.7 L324.8,505.4 L325.8,504.3 L326.8,503.1 L327.8,502.0 L328.8,501.0 L329.8,500.0 L330.8,499.0 L331.8,498.2 L332.8,497.4 L333.8,496.7 L334.8,496.1 L335.8,495.6 L336.8,495.2 L337.8,494.9 L338.8,494.7 L339.8,494.5 L340.8,494.5 L341.8,494.5 L342.8,494.7 L343.8,494.8 L344.8,495.1 L345.8,495.4 L346.8,495.8 L347.8,496.3 L348.8,496.9 L349.8,497.5 L350.8,498.3 L351.8,499.1 L352.8,500.0 L353.8,501.0 L354.8,502.0 L355.8,503.1 L356.8,504.2 L357.8,505.4 L358.8,506.6 L359.8,507.9 L360.8,509.1 L361.8,510.4 L362.8,511.6 L363.8,512.8 L364.8,514.1 L365.8,515.3 L366.8,516.5 L367.8,517.7 L368.8,518.9 L369.8,520.1 L370.8,521.3 L371.8,522.5 L372.8,523.7 L373.8,524.9 L374.8,526.0 L375.8,527.2 L376.8,528.3 L377.8,529.4 L378.8,530.5 L379.8,531.5 L380.8,532.5 L381.8,533.4 L382.8,534.3 L383.8,535.1 L384.8,535.9 L385.8,536.5 L386.8,537.1 L387.8,537.6 L388.8,538.1 L389.8,538.4 L390.8,538.7 L391.8,539.0 L392.8,539.2 L393.8,539.3 L394.8,539.3 L395.8,539.3 L396.8,539.3 L397.8,539.2 L398.8,539.0 L399.8,538.8 L400.8,538.5 L401.8,538.2 L402.8,537.8 L403.8,537.3 L404.8,536.8 L405.8,536.3 L406.8,535.7 L407.8,535.1 L408.8,534.4 L409.8,533.7 L410.8,533.0 L411.8,532.2 L412.8,531.5 L413.8,530.7 L414.8,530.0 L415.8,529.2 L416.8,528.5 L417.8,527.8 L418.8,527.1 L419.8,526.4 L420.8,525.7 L421.8,525.1 L422.8,524.5 L423.8,523.9 L424.8,523.3 L425.8,522.8 L426.8,522.3 L427.8,521.8 L428.8,521.3 L429.8,520.9 L430.8,520.5 L431.8,520.2 L432.8,519.9 L433.8,519.7 L434.8,519.5 L435.8,519.5 L436.8,519.5 L437.8,519.7 L438.8,519.9 L439.8,520.2 L440.8,520.7 L441.8,521.1 L442.8,521.7 L443.8,522.3 L444.8,522.9 L445.8,523.6 L446.8,524.3 L447.8,524.9 L448.8,525.6 L449.8,526.3 L450.8,527.0 L451.8,527.7 L452.8,528.4 L453.8,529.0 L454.8,529.7 L455.8,530.4 L456.8,531.0 L457.8,531.6 L458.8,532.2 L459.8,532.8 L460.8,533.4 L461.8,533.9 L462.8,534.5 L463.8,535.0 L464.8,535.5 L465.8,535.9 L466.8,536.4 L467.8,536.8 L468.8,537.2 L469.8,537.5 L470.8,537.8 L471.8,538.1 L472.8,538.4 L473.8,538.7 L474.8,538.9 L475.8,539.0 L476.8,539.2 L477.8,539.3 L478.8,539.4 L479.8,539.4 L480.8,539.4 L481.8,539.4 L482.8,539.3 L483.8,539.2 L484.8,539.1 L485.8,538.9 L486.8,538.7 L487.8,538.4 L488.8,538.1 L489.8,537.8 L490.8,537.4 L491.8,536.9 L492.8,536.4 L493.8,535.8 L494.8,535.2 L495.8,534.6 L496.8,533.9 L497.8,533.2 L498.8,532.4 L499.8,531.7 L500.8,530.9 L501.8,530.1 L502.8,529.3 L503.8,528.5 L504.8,527.8 L505.8,527.0 L506.8,526.2 L507.8,525.4 L508.8,524.7 L509.8,524.0 L510.8,523.3 L511.8,522.6 L512.8,521.9 L513.8,521.2 L514.8,520.6 L515.8,520.0 L516.8,519.4 L517.8,518.9 L518.8,518.4 L519.8,517.9 L520.8,517.4 L521.8,517.0 L522.8,516.6 L523.8,516.2 L524.8,515.9 L525.8,515.5 L526.8,515.3 L527.8,515.0 L528.8,514.8 L529.8,514.6 L530.8,514.4 L531.8,514.3 L532.8,514.2 L533.8,514.2 L534.8,514.2 L535.8,514.2 L536.8,514.3 L537.8,514.5 L538.8,514.7 L539.8,514.9 L540.8,515.2 L541.8,515.5 L542.8,515.8 L543.8,516.2 L544.8,516.6 L545.8,517.1 L546.8,517.5 L547.8,518.0 L548.8,518.6 L549.8,519.1 L550.8,519.7 L551.8,520.3 L552.8,520.9 L553.8,521.5 L554.8,522.1 L555.8,522.8 L556.8,523.5 L557.8,524.1 L558.8,524.8 L559.8,525.5 L560.8,526.2 L561.8,526.8 L562.8,527.5 L563.8,528.1 L564.8,528.8 L565.8,529.4 L566.8,530.0 L567.8,530.5 L568.8,531.1 L569.8,531.5 L570.8,532.0 L571.8,532.4 L572.8,532.8 L573.8,533.1 L574.8,533.4 L575.8,533.7 L576.8,533.9 L577.8,534.1 L578.8,534.2 L579.8,534.4 L580.8,534.5 L581.8,534.6 L582.8,534.7 L583.8,534.7 L584.8,534.8 L585.8,534.7 L586.8,534.7 L587.8,534.5 L588.8,534.4 L589.8,534.2 L590.8,533.9 L591.8,533.5 L592.8,533.2 L593.8,532.7 L594.8,532.2 L595.8,531.7 L596.8,531.1 L597.8,530.4 L598.8,529.7 L599.8,529.0 L600.8,528.2 L601.8,527.4 L602.8,526.5 L603.8,525.7 L604.8,524.8 L605.8,523.9 L606.8,523.0 L607.8,522.2 L608.8,521.3 L609.8,520.5 L610.8,519.7 L611.8,518.9 L612.8,518.2 L613.8,517.4 L614.8,516.7 L615.8,516.0 L616.8,515.3 L617.8,514.6 L618.8,514.0 L619.8,513.4 L620.8,512.8 L621.8,512.2 L622.8,511.7 L623.8,511.2 L624.8,510.8 L625.8,510.4 L626.8,510.0 L627.8,509.7 L628.8,509.5 L629.8,509.3 L630.8,509.2 L631.8,509.1 L632.8,509.0 L633.8,509.0 L634.8,509.0 L635.8,509.1 L636.8,509.2 L637.8,509.4 L638.8,509.6 L639.8,509.8 L640.8,510.0 L641.8,510.3 L642.8,510.6 L643.8,510.9 L644.8,511.3 L645.8,511.7 L646.8,512.1 L647.8,512.5 L648.8,513.0 L649.8,513.5 L650.8,514.0 L651.8,514.6 L652.8,515.2 L653.8,515.8 L654.8,516.4 L655.8,517.0 L656.8,517.6 L657.8,518.2 L658.8,518.9 L659.8,519.5 L660.8,520.1 L661.8,520.7 L662.8,521.3 L663.8,521.9 L664.8,522.5 L665.8,523.0 L666.8,523.6 L667.8,524.1 L668.8,524.6 L669.8,525.1 L670.8,525.5 L671.8,526.0 L672.8,526.4 L673.8,526.8 L674.8,527.2 L675.8,527.6 L676.8,527.9 L677.8,528.3 L678.8,528.6 L679.8,528.9 L680.8,529.2 L681.8,529.4 L682.8,529.6 L683.8,529.8 L684.8,530.0 L685.8,530.2 L686.8,530.3 L687.8,530.4 L688.8,530.5 L689.8,530.5 L690.8,530.6 L691.8,530.6 L692.8,530.5 L693.8,530.5 L694.8,530.4 L695.8,530.3 L696.8,530.1 L697.8,529.9 L698.8,529.7 L699.8,529.5 L700.8,529.2 L701.8,528.9 L702.8,528.6 L703.8,528.2 L704.8,527.8 L705.8,527.4 L706.8,527.0 L707.8,526.6 L708.8,526.1 L709.8,525.6 L710.8,525.1 L711.8,524.6 L712.8,524.1 L713.8,523.5 L714.8,523.0 L715.8,522.5 L716.8,522.0 L717.8,521.5 L718.8,520.9 L719.8,520.5 L720.8,520.0 L721.8,519.5 L722.8,519.1 L723.8,518.6 L724.8,518.2 L725.8,517.8 L726.8,517.4 L727.8,517.0 L728.8,516.7 L729.8,516.4 L730.8,516.0 L731.8,515.8 L732.8,515.5 L733.8,515.2 L734.8,515.0 L735.8,514.8 L736.8,514.6 L737.8,514.5 L738.8,514.4 L739.8,514.3 L740.8,514.2 L741.8,514.2 L742.8,514.2 L743.8,514.3 L744.8,514.3 L745.8,514.5 L746.8,514.6 L747.8,514.8 L748.8,515.0 L749.8,515.2 L750.8,515.5 L751.8,515.8 L752.8,516.2 L753.8,516.5 L754.8,516.9 L755.8,517.3 L756.8,517.7 L757.8,518.2 L758.8,518.6 L759.8,519.1 L760.8,519.6 L761.8,520.1 L762.8,520.6 L763.8,521.1 L764.8,521.6 L765.8,522.1 L766.8,522.5 L767.8,523.0 L768.8,523.5 L769.8,523.9 L770.8,524.3 L771.8,524.8 L772.8,525.2 L773.8,525.6 L774.8,525.9 L775.8,526.3 L776.8,526.6 L777.8,527.0 L778.8,527.3 L779.8,527.6 L780.8,527.8 L781.8,528.1 L782.8,528.3 L783.8,528.5 L784.8,528.7 L785.8,528.9 L786.8,529.1 L787.8,529.2 L788.8,529.3 L789.8,529.4 L790.8,529.5 L791.8,529.6 L792.8,529.6 L793.8,529.7 L794.8,529.7 L795.8,529.7 L796.8,529.7 L797.8,529.7 L798.8,529.7 L799.8,529.7 L800.8,529.6 L801.8,529.6 L802.8,529.5 L803.8,529.4 L804.8,529.3 L805.8,529.3 L806.8,529.2 L807.8,529.0 L808.8,528.9 L809.8,528.8 L810.8,528.6 L811.8,528.5 L812.8,528.3 L813.8,528.1 L814.8,527.9 L815.8,527.7 L816.8,527.5 L817.8,527.2 L818.8,527.0 L819.8,526.7 L820.8,526.4 L821.8,526.2 L822.8,525.9 L823.8,525.6 L824.8,525.4 L825.8,525.1 L826.8,524.8 L827.8,524.5 L828.8,524.3 L829.8,524.0 L830.8,523.8 L831.8,523.5 L832.8,523.3 L833.8,523.1 L834.5,522.9" stroke="#868686" stroke-width="12.3"/>
<path d="M98.8,730.9 L99.8,732.4 L100.8,733.9 L101.8,735.4 L102.8,736.9 L103.8,738.5 L104.8,740.0 L105.8,741.7 L106.8,743.3 L107.8,745.0 L108.8,746.8 L109.8,748.6 L110.8,750.4 L111.8,752.3 L112.8,754.2 L113.8,756.2 L114.8,758.2 L115.8,760.2 L116.8,762.2 L117.8,764.2 L118.8,766.2 L119.8,768.2 L120.8,770.1 L121.8,772.0 L122.8,773.9 L123.8,775.6 L124.8,777.3 L125.8,779.0 L126.8,780.5 L127.8,781.9 L128.8,783.3 L129.8,784.5 L130.8,785.7 L131.8,786.7 L132.8,787.7 L133.8,788.6 L134.8,789.4 L135.8,790.2 L136.8,790.8 L137.8,791.3 L138.8,791.7 L139.8,792.0 L140.8,792.1 L141.8,792.0 L142.8,791.8 L143.8,791.5 L144.8,791.0 L145.8,790.4 L146.8,789.7 L147.8,788.9 L148.8,788.1 L149.8,787.3 L150.8,786.4 L151.8,785.5 L152.8,784.6 L153.8,783.7 L154.8,782.8 L155.8,782.0 L156.8,781.2 L157.8,780.5 L158.8,779.9 L159.8,779.4 L160.8,779.0 L161.8,778.7 L162.8,778.5 L163.8,778.5 L164.8,778.6 L165.8,778.9 L166.8,779.3 L167.8,779.8 L168.8,780.4 L169.8,781.1 L170.8,781.9 L171.8,782.8 L172.8,783.7 L173.8,784.8 L174.8,785.9 L175.8,787.2 L176.8,788.5 L177.8,789.9 L178.8,791.2 L179.8,792.6 L180.8,793.9 L181.8,795.1 L182.8,796.2 L183.8,797.1 L184.8,797.7 L185.8,798.1 L186.8,798.1 L187.8,797.7 L188.8,796.9 L189.8,795.8 L190.8,794.3 L191.8,792.3 L192.8,790.1 L193.8,787.5 L194.8,784.6 L195.8,781.5 L196.8,778.2 L197.8,774.7 L198.8,771.0 L199.8,767.1 L200.8,763.0 L201.8,758.6 L202.8,754.0 L203.8,749.1 L204.8,744.1 L205.8,739.0 L206.8,733.8 L207.8,728.6 L208.8,723.5 L209.8,718.5 L210.8,713.5 L211.8,708.6 L212.8,703.7 L213.8,698.8 L214.8,694.0 L215.8,689.3 L216.8,684.7 L217.8,680.3 L218.8,676.1 L219.8,672.2 L220.8,668.5 L221.8,665.2 L222.8,662.1 L223.8,659.3 L224.8,656.7 L225.8,654.5 L226.8,652.4 L227.8,650.6 L228.8,649.1 L229.8,647.8 L230.8,646.7 L231.8,645.8 L232.8,645.2 L233.8,644.7 L234.8,644.4 L235.8,644.3 L236.8,644.4 L237.8,644.7 L238.8,645.2 L239.8,646.1 L240.8,647.4 L241.8,649.0 L242.8,651.0 L243.8,653.3 L244.8,655.9 L245.8,658.6 L246.8,661.5 L247.8,664.5 L248.8,667.5 L249.8,670.6 L250.8,673.6 L251.8,676.8 L252.8,680.0 L253.8,683.3 L254.8,686.6 L255.8,690.1 L256.8,693.6 L257.8,697.2 L258.8,700.9 L259.8,704.5 L260.8,708.0 L261.8,711.5 L262.8,714.9 L263.8,718.1 L264.8,721.2 L265.8,724.1 L266.8,726.9 L267.8,729.6 L268.8,732.2 L269.8,734.7 L270.8,737.1 L271.8,739.4 L272.8,741.7 L273.8,743.7 L274.8,745.7 L275.8,747.5 L276.8,749.1 L277.8,750.5 L278.8,751.8 L279.8,752.9 L280.8,753.8 L281.8,754.6 L282.8,755.3 L283.8,755.8 L284.8,756.2 L285.8,756.6 L286.8,756.8 L287.8,757.0 L288.8,757.1 L289.8,757.0 L290.8,756.9 L291.8,756.7 L292.8,756.5 L293.8,756.1 L294.8,755.5 L295.8,754.9 L296.8,754.1 L297.8,753.1 L298.8,752.0 L299.8,750.6 L300.8,749.2 L301.8,747.5 L302.8,745.8 L303.8,743.8 L304.8,741.8 L305.8,739.7 L306.8,737.5 L307.8,735.2 L308.8,732.8 L309.8,730.5 L310.8,728.2 L311.8,725.9 L312.8,723.7 L313.8,721.7 L314.8,719.8 L315.8,718.0 L316.8,716.4 L317.8,714.9 L318.8,713.5 L319.8,712.2 L320.8,711.0 L321.8,709.9 L322.8,708.9 L323.8,707.9 L324.8,707.0 L325.8,706.2 L326.8,705.4 L327.8,704.7 L328.8,704.1 L329.8,703.6 L330.8,703.2 L331.8,702.8 L332.8,702.5 L333.8,702.4 L334.8,702.2 L335.8,702.2 L336.8,702.2 L337.8,702.3 L338.8,702.4 L339.8,702.6 L340.8,702.9 L341.8,703.2 L342.8,703.5 L343.8,704.0 L344.8,704.5 L345.8,705.0 L346.8,705.7 L347.8,706.4 L348.8,707.2 L349.8,708.1 L350.8,709.1 L351.8,710.0 L352.8,711.1 L353.8,712.1 L354.8,713.3 L355.8,714.4 L356.8,715.5 L357.8,716.7 L358.8,717.9 L359.8,719.1 L360.8,720.3 L361.8,721.6 L362.8,722.8 L363.8,724.0 L364.8,725.3 L365.8,726.5 L366.8,727.7 L367.8,728.9 L368.8,730.1 L369.8,731.3 L370.8,732.5 L371.8,733.6 L372.8,734.8 L373.8,735.9 L374.8,737.0 L375.8,738.1 L376.8,739.1 L377.8,740.2 L378.8,741.2 L379.8,742.1 L380.8,743.0 L381.8,743.9 L382.8,744.8 L383.8,745.6 L384.8,746.4 L385.8,747.1 L386.8,747.8 L387.8,748.5 L388.8,749.1 L389.8,749.6 L390.8,750.1 L391.8,750.6 L392.8,750.9 L393.8,751.3 L394.8,751.5 L395.8,751.6 L396.8,751.7 L397.8,751.7 L398.8,751.6 L399.8,751.3 L400.8,751.0 L401.8,750.6 L402.8,750.1 L403.8,749.6 L404.8,748.9 L405.8,748.1 L406.8,747.3 L407.8,746.3 L408.8,745.3 L409.8,744.3 L410.8,743.1 L411.8,742.0 L412.8,740.8 L413.8,739.6 L414.8,738.4 L415.8,737.2 L416.8,736.1 L417.8,734.9 L418.8,733.8 L419.8,732.7 L420.8,731.7 L421.8,730.7 L422.8,729.7 L423.8,728.8 L424.8,727.9 L425.8,727.1 L426.8,726.3 L427.8,725.5 L428.8,724.8 L429.8,724.2 L430.8,723.6 L431.8,723.1 L432.8,722.7 L433.8,722.4 L434.8,722.1 L435.8,721.9 L436.8,721.9 L437.8,721.9 L438.8,722.1 L439.8,722.3 L440.8,722.7 L441.8,723.1 L442.8,723.6 L443.8,724.1 L444.8,724.7 L445.8,725.3 L446.8,726.0 L447.8,726.6 L448.8,727.3 L449.8,728.0 L450.8,728.7 L451.8,729.4 L452.8,730.2 L453.8,730.9 L454.8,731.6 L455.8,732.3 L456.8,733.0 L457.8,733.7 L458.8,734.4 L459.8,735.1 L460.8,735.8 L461.8,736.5 L462.8,737.2 L463.8,737.8 L464.8,738.4 L465.8,739.0 L466.8,739.6 L467.8,740.2 L468.8,740.8 L469.8,741.3 L470.8,741.8 L471.8,742.3 L472.8,742.8 L473.8,743.2 L474.8,743.6 L475.8,744.0 L476.8,744.4 L477.8,744.7 L478.8,745.0 L479.8,745.3 L480.8,745.6 L481.8,745.8 L482.8,746.0 L483.8,746.2 L484.8,746.4 L485.8,746.5 L486.8,746.6 L487.8,746.7 L488.8,746.7 L489.8,746.7 L490.8,746.7 L491.8,746.6 L492.8,746.5 L493.8,746.3 L494.8,746.2 L495.8,745.9 L496.8,745.6 L497.8,745.3 L498.8,744.9 L499.8,744.5 L500.8,744.0 L501.8,743.5 L502.8,742.9 L503.8,742.2 L504.8,741.5 L505.8,740.8 L506.8,740.0 L507.8,739.2 L508.8,738.4 L509.8,737.5 L510.8,736.7 L511.8,735.8 L512.8,734.9 L513.8,734.0 L514.8,733.1 L515.8,732.2 L516.8,731.3 L517.8,730.5 L518.8,729.6 L519.8,728.8 L520.8,727.9 L521.8,727.2 L522.8,726.4 L523.8,725.6 L524.8,724.9 L525.8,724.2 L526.8,723.6 L527.8,723.0 L528.8,722.4 L529.8,721.8 L530.8,721.3 L531.8,720.9 L532.8,720.5 L533.8,720.1 L534.8,719.8 L535.8,719.5 L536.8,719.3 L537.8,719.1 L538.8,719.0 L539.8,718.9 L540.8,718.8 L541.8,718.9 L542.8,718.9 L543.8,719.1 L544.8,719.2 L545.8,719.5 L546.8,719.8 L547.8,720.1 L548.8,720.4 L549.8,720.8 L550.8,721.3 L551.8,721.7 L552.8,722.2 L553.8,722.8 L554.8,723.3 L555.8,723.9 L556.8,724.5 L557.8,725.1 L558.8,725.7 L559.8,726.3 L560.8,727.0 L561.8,727.6 L562.8,728.2 L563.8,728.8 L564.8,729.4 L565.8,730.0 L566.8,730.6 L567.8,731.2 L568.8,731.7 L569.8,732.3 L570.8,732.8 L571.8,733.3 L572.8,733.8 L573.8,734.3 L574.8,734.7 L575.8,735.2 L576.8,735.6 L577.8,736.0 L578.8,736.4 L579.8,736.9 L580.8,737.2 L581.8,737.6 L582.8,737.9 L583.8,738.3 L584.8,738.5 L585.8,738.8 L586.8,739.0 L587.8,739.2 L588.8,739.3 L589.8,739.3 L590.8,739.4 L591.8,739.3 L592.8,739.2 L593.8,739.1 L594.8,738.9 L595.8,738.6 L596.8,738.3 L597.8,737.9 L598.8,737.5 L599.8,737.1 L600.8,736.5 L601.8,736.0 L602.8,735.4 L603.8,734.8 L604.8,734.2 L605.8,733.5 L606.8,732.9 L607.8,732.2 L608.8,731.4 L609.8,730.7 L610.8,730.0 L611.8,729.2 L612.8,728.4 L613.8,727.6 L614.8,726.7 L615.8,725.9 L616.8,725.0 L617.8,724.1 L618.8,723.3 L619.8,722.4 L620.8,721.7 L621.8,720.9 L622.8,720.2 L623.8,719.6 L624.8,719.1 L625.8,718.7 L626.8,718.3 L627.8,718.1 L628.8,717.9 L629.8,717.8 L630.8,717.7 L631.8,717.7 L632.8,717.7 L633.8,717.7 L634.8,717.7 L635.8,717.7 L636.8,717.7 L637.8,717.7 L638.8,717.6 L639.8,717.5 L640.8,717.4 L641.8,717.2 L642.8,717.1 L643.8,717.0 L644.8,717.0 L645.8,717.0 L646.8,717.1 L647.8,717.1 L648.8,717.3 L649.8,717.5 L650.8,717.7 L651.8,717.9 L652.8,718.2 L653.8,718.6 L654.8,718.9 L655.8,719.3 L656.8,719.8 L657.8,720.2 L658.8,720.7 L659.8,721.2 L660.8,721.7 L661.8,722.2 L662.8,722.7 L663.8,723.3 L664.8,723.8 L665.8,724.4 L666.8,724.9 L667.8,725.5 L668.8,726.0 L669.8,726.6 L670.8,727.2 L671.8,727.7 L672.8,728.2 L673.8,728.7 L674.8,729.2 L675.8,729.7 L676.8,730.2 L677.8,730.6 L678.8,731.1 L679.8,731.5 L680.8,731.8 L681.8,732.2 L682.8,732.5 L683.8,732.8 L684.8,733.1 L685.8,733.3 L686.8,733.6 L687.8,733.8 L688.8,734.0 L689.8,734.2 L690.8,734.3 L691.8,734.5 L692.8,734.6 L693.8,734.8 L694.8,734.9 L695.8,734.9 L696.8,735.0 L697.8,735.1 L698.8,735.1 L699.8,735.1 L700.8,735.0 L701.8,735.0 L702.8,734.9 L703.8,734.8 L704.8,734.7 L705.8,734.5 L706.8,734.3 L707.8,734.1 L708.8,733.9 L709.8,733.7 L710.8,733.4 L711.8,733.1 L712.8,732.9 L713.8,732.6 L714.8,732.3 L715.8,731.9 L716.8,731.6 L717.8,731.3 L718.8,731.0 L719.8,730.6 L720.8,730.3 L721.8,729.9 L722.8,729.6 L723.8,729.2 L724.8,728.8 L725.8,728.5 L726.8,728.1 L727.8,727.8 L728.8,727.4 L729.8,727.0 L730.8,726.7 L731.8,726.4 L732.8,726.1 L733.8,725.7 L734.8,725.5 L735.8,725.2 L736.8,725.0 L737.8,724.7 L738.8,724.5 L739.8,724.4 L740.8,724.2 L741.8,724.1 L742.8,724.0 L743.8,723.9 L744.8,723.9 L745.8,723.9 L746.8,723.9 L747.8,723.9 L748.8,724.0 L749.8,724.1 L750.8,724.2 L751.8,724.3 L752.8,724.4 L753.8,724.6 L754.8,724.8 L755.8,725.1 L756.8,725.3 L757.8,725.6 L758.8,725.9 L759.8,726.2 L760.8,726.5 L761.8,726.9 L762.8,727.2 L763.8,727.6 L764.8,728.0 L765.8,728.3 L766.8,728.7 L767.8,729.1 L768.8,729.5 L769.8,729.9 L770.8,730.3 L771.8,730.6 L772.8,731.0 L773.8,731.4 L774.8,731.8 L775.8,732.1 L776.8,732.5 L777.8,732.8 L778.8,733.2 L779.8,733.5 L780.8,733.8 L781.8,734.1 L782.8,734.5 L783.8,734.8 L784.8,735.0 L785.8,735.3 L786.8,735.6 L787.8,735.8 L788.8,736.1 L789.8,736.3 L790.8,736.6 L791.8,736.8 L792.8,737.0 L793.8,737.1 L794.8,737.3 L795.8,737.5 L796.8,737.6 L797.8,737.7 L798.8,737.8 L799.8,737.9 L800.8,738.0 L801.8,738.0 L802.8,738.0 L803.8,738.0 L804.8,737.9 L805.8,737.8 L806.8,737.7 L807.8,737.6 L808.8,737.5 L809.8,737.3 L810.8,737.1 L811.8,736.9 L812.8,736.7 L813.8,736.5 L814.8,736.2 L815.8,736.0 L816.8,735.7 L817.8,735.4 L818.8,735.1 L819.8,734.9 L820.8,734.6 L821.8,734.3 L822.8,734.0 L823.8,733.7 L824.8,733.4 L825.8,733.1 L826.8,732.9 L827.8,732.6 L828.8,732.3 L829.8,732.0 L830.8,731.8 L831.8,731.5 L832.8,731.2 L833.8,731.0 L834.5,730.8" stroke="#868686" stroke-width="12.3"/>
<path d="M98.8,916.0 L99.8,916.2 L100.8,916.4 L101.8,916.6 L102.8,916.8 L103.8,917.0 L104.8,917.2 L105.8,917.4 L106.8,917.6 L107.8,917.8 L108.8,918.0 L109.8,918.2 L110.8,918.5 L111.8,918.7 L112.8,918.9 L113.8,919.1 L114.8,919.4 L115.8,919.6 L116.8,919.9 L117.8,920.2 L118.8,920.5 L119.8,920.8 L120.8,921.1 L121.8,921.5 L122.8,921.8 L123.8,922.2 L124.8,922.6 L125.8,923.0 L126.8,923.5 L127.8,923.9 L128.8,924.4 L129.8,925.0 L130.8,925.5 L131.8,926.1 L132.8,926.8 L133.8,927.4 L134.8,928.2 L135.8,928.9 L136.8,929.8 L137.8,930.6 L138.8,931.6 L139.8,932.6 L140.8,933.6 L141.8,934.8 L142.8,935.9 L143.8,937.2 L144.8,938.4 L145.8,939.8 L146.8,941.1 L147.8,942.5 L148.8,944.0 L149.8,945.5 L150.8,947.0 L151.8,948.6 L152.8,950.2 L153.8,951.8 L154.8,953.5 L155.8,955.2 L156.8,956.9 L157.8,958.6 L158.8,960.3 L159.8,962.1 L160.8,963.8 L161.8,965.6 L162.8,967.3 L163.8,969.0 L164.8,970.6 L165.8,972.3 L166.8,973.9 L167.8,975.4 L168.8,976.9 L169.8,978.3 L170.8,979.7 L171.8,981.0 L172.8,982.3 L173.8,983.5 L174.8,984.6 L175.8,985.6 L176.8,986.5 L177.8,987.3 L178.8,988.0 L179.8,988.6 L180.8,989.0 L181.8,989.3 L182.8,989.4 L183.8,989.4 L184.8,989.3 L185.8,989.1 L186.8,988.8 L187.8,988.3 L188.8,987.6 L189.8,986.7 L190.8,985.6 L191.8,984.3 L192.8,982.8 L193.8,981.0 L194.8,979.1 L195.8,977.0 L196.8,974.8 L197.8,972.4 L198.8,969.8 L199.8,967.1 L200.8,964.3 L201.8,961.2 L202.8,958.0 L203.8,954.6 L204.8,951.1 L205.8,947.5 L206.8,943.8 L207.8,940.0 L208.8,936.2 L209.8,932.4 L210.8,928.6 L211.8,924.8 L212.8,921.1 L213.8,917.4 L214.8,913.7 L215.8,910.1 L216.8,906.6 L217.8,903.1 L218.8,899.7 L219.8,896.3 L220.8,893.0 L221.8,889.7 L222.8,886.4 L223.8,883.1 L224.8,879.9 L225.8,876.8 L226.8,873.8 L227.8,870.9 L228.8,868.1 L229.8,865.5 L230.8,863.1 L231.8,860.8 L232.8,858.7 L233.8,856.9 L234.8,855.2 L235.8,853.8 L236.8,852.5 L237.8,851.4 L238.8,850.5 L239.8,849.5 L240.8,848.7 L241.8,847.8 L242.8,846.9 L243.8,846.2 L244.8,845.6 L245.8,845.3 L246.8,845.3 L247.8,845.5 L248.8,846.0 L249.8,846.8 L250.8,847.8 L251.8,849.0 L252.8,850.3 L253.8,851.9 L254.8,853.7 L255.8,855.6 L256.8,857.6 L257.8,859.8 L258.8,862.1 L259.8,864.5 L260.8,867.0 L261.8,869.6 L262.8,872.2 L263.8,874.9 L264.8,877.7 L265.8,880.5 L266.8,883.3 L267.8,886.1 L268.8,888.9 L269.8,891.7 L270.8,894.5 L271.8,897.2 L272.8,899.9 L273.8,902.6 L274.8,905.2 L275.8,907.8 L276.8,910.2 L277.8,912.6 L278.8,914.9 L279.8,917.1 L280.8,919.1 L281.8,921.1 L282.8,922.9 L283.8,924.6 L284.8,926.1 L285.8,927.5 L286.8,928.8 L287.8,929.9 L288.8,930.9 L289.8,931.8 L290.8,932.5 L291.8,933.2 L292.8,933.7 L293.8,934.2 L294.8,934.5 L295.8,934.7 L296.8,934.7 L297.8,934.7 L298.8,934.5 L299.8,934.2 L300.8,933.8 L301.8,933.3 L302.8,932.7 L303.8,931.9 L304.8,931.1 L305.8,930.2 L306.8,929.2 L307.8,928.1 L308.8,927.0 L309.8,925.8 L310.8,924.5 L311.8,923.3 L312.8,921.9 L313.8,920.6 L314.8,919.2 L315.8,917.8 L316.8,916.5 L317.8,915.1 L318.8,913.7 L319.8,912.3 L320.8,910.9 L321.8,909.6 L322.8,908.3 L323.8,907.0 L324.8,905.7 L325.8,904.5 L326.8,903.3 L327.8,902.2 L328.8,901.1 L329.8,900.1 L330.8,899.1 L331.8,898.2 L332.8,897.3 L333.8,896.5 L334.8,895.8 L335.8,895.2 L336.8,894.6 L337.8,894.0 L338.8,893.6 L339.8,893.2 L340.8,892.8 L341.8,892.6 L342.8,892.4 L343.8,892.3 L344.8,892.3 L345.8,892.3 L346.8,892.4 L347.8,892.5 L348.8,892.7 L349.8,893.0 L350.8,893.4 L351.8,893.8 L352.8,894.3 L353.8,894.9 L354.8,895.5 L355.8,896.3 L356.8,897.1 L357.8,898.0 L358.8,898.9 L359.8,899.9 L360.8,901.0 L361.8,902.0 L362.8,903.1 L363.8,904.3 L364.8,905.4 L365.8,906.6 L366.8,907.7 L367.8,908.8 L368.8,910.0 L369.8,911.1 L370.8,912.2 L371.8,913.3 L372.8,914.4 L373.8,915.5 L374.8,916.6 L375.8,917.6 L376.8,918.6 L377.8,919.6 L378.8,920.6 L379.8,921.5 L380.8,922.4 L381.8,923.3 L382.8,924.1 L383.8,924.9 L384.8,925.7 L385.8,926.4 L386.8,927.1 L387.8,927.8 L388.8,928.5 L389.8,929.1 L390.8,929.7 L391.8,930.3 L392.8,930.9 L393.8,931.5 L394.8,932.1 L395.8,932.7 L396.8,933.3 L397.8,933.8 L398.8,934.3 L399.8,934.6 L400.8,934.9 L401.8,934.9 L402.8,934.9 L403.8,934.7 L404.8,934.4 L405.8,934.1 L406.8,933.6 L407.8,933.2 L408.8,932.6 L409.8,932.1 L410.8,931.5 L411.8,930.9 L412.8,930.2 L413.8,929.6 L414.8,928.9 L415.8,928.3 L416.8,927.6 L417.8,926.9 L418.8,926.3 L419.8,925.6 L420.8,925.0 L421.8,924.3 L422.8,923.7 L423.8,923.1 L424.8,922.5 L425.8,921.9 L426.8,921.3 L427.8,920.8 L428.8,920.3 L429.8,919.8 L430.8,919.3 L431.8,918.9 L432.8,918.5 L433.8,918.1 L434.8,917.8 L435.8,917.4 L436.8,917.2 L437.8,916.9 L438.8,916.7 L439.8,916.5 L440.8,916.4 L441.8,916.3 L442.8,916.2 L443.8,916.1 L444.8,916.1 L445.8,916.1 L446.8,916.1 L447.8,916.2 L448.8,916.3 L449.8,916.4 L450.8,916.5 L451.8,916.7 L452.8,916.9 L453.8,917.2 L454.8,917.4 L455.8,917.8 L456.8,918.1 L457.8,918.5 L458.8,919.0 L459.8,919.4 L460.8,919.9 L461.8,920.4 L462.8,920.9 L463.8,921.3 L464.8,921.8 L465.8,922.3 L466.8,922.8 L467.8,923.2 L468.8,923.7 L469.8,924.1 L470.8,924.5 L471.8,924.9 L472.8,925.3 L473.8,925.6 L474.8,925.9 L475.8,926.2 L476.8,926.4 L477.8,926.7 L478.8,926.9 L479.8,927.1 L480.8,927.3 L481.8,927.5 L482.8,927.7 L483.8,927.8 L484.8,928.0 L485.8,928.2 L486.8,928.3 L487.8,928.4 L488.8,928.5 L489.8,928.5 L490.8,928.5 L491.8,928.5 L492.8,928.4 L493.8,928.3 L494.8,928.2 L495.8,928.1 L496.8,927.9 L497.8,927.7 L498.8,927.4 L499.8,927.2 L500.8,926.9 L501.8,926.5 L502.8,926.2 L503.8,925.8 L504.8,925.4 L505.8,925.0 L506.8,924.5 L507.8,924.0 L508.8,923.5 L509.8,923.0 L510.8,922.5 L511.8,921.9 L512.8,921.3 L513.8,920.6 L514.8,920.0 L515.8,919.3 L516.8,918.6 L517.8,917.9 L518.8,917.2 L519.8,916.4 L520.8,915.7 L521.8,915.0 L522.8,914.3 L523.8,913.6 L524.8,912.9 L525.8,912.2 L526.8,911.6 L527.8,911.0 L528.8,910.4 L529.8,909.8 L530.8,909.3 L531.8,908.8 L532.8,908.3 L533.8,907.8 L534.8,907.4 L535.8,907.0 L536.8,906.7 L537.8,906.4 L538.8,906.1 L539.8,905.9 L540.8,905.7 L541.8,905.5 L542.8,905.4 L543.8,905.3 L544.8,905.2 L545.8,905.2 L546.8,905.2 L547.8,905.3 L548.8,905.3 L549.8,905.5 L550.8,905.6 L551.8,905.8 L552.8,906.0 L553.8,906.3 L554.8,906.5 L555.8,906.8 L556.8,907.2 L557.8,907.5 L558.8,907.9 L559.8,908.3 L560.8,908.7 L561.8,909.1 L562.8,909.5 L563.8,910.0 L564.8,910.4 L565.8,910.8 L566.8,911.3 L567.8,911.7 L568.8,912.1 L569.8,912.5 L570.8,912.9 L571.8,913.3 L572.8,913.7 L573.8,914.0 L574.8,914.4 L575.8,914.8 L576.8,915.1 L577.8,915.4 L578.8,915.7 L579.8,916.0 L580.8,916.3 L581.8,916.6 L582.8,916.9 L583.8,917.1 L584.8,917.4 L585.8,917.6 L586.8,917.8 L587.8,918.0 L588.8,918.2 L589.8,918.4 L590.8,918.5 L591.8,918.7 L592.8,918.8 L593.8,918.9 L594.8,918.9 L595.8,919.0 L596.8,919.0 L597.8,919.0 L598.8,918.9 L599.8,918.9 L600.8,918.8 L601.8,918.6 L602.8,918.5 L603.8,918.3 L604.8,918.1 L605.8,917.8 L606.8,917.5 L607.8,917.2 L608.8,916.9 L609.8,916.5 L610.8,916.1 L611.8,915.7 L612.8,915.2 L613.8,914.8 L614.8,914.3 L615.8,913.8 L616.8,913.3 L617.8,912.7 L618.8,912.2 L619.8,911.6 L620.8,911.1 L621.8,910.5 L622.8,909.9 L623.8,909.4 L624.8,908.8 L625.8,908.3 L626.8,907.8 L627.8,907.3 L628.8,906.9 L629.8,906.5 L630.8,906.2 L631.8,905.8 L632.8,905.6 L633.8,905.3 L634.8,905.1 L635.8,905.0 L636.8,904.8 L637.8,904.7 L638.8,904.6 L639.8,904.5 L640.8,904.4 L641.8,904.4 L642.8,904.3 L643.8,904.3 L644.8,904.3 L645.8,904.3 L646.8,904.3 L647.8,904.4 L648.8,904.4 L649.8,904.5 L650.8,904.6 L651.8,904.7 L652.8,904.8 L653.8,905.0 L654.8,905.2 L655.8,905.3 L656.8,905.5 L657.8,905.8 L658.8,906.0 L659.8,906.2 L660.8,906.5 L661.8,906.8 L662.8,907.1 L663.8,907.4 L664.8,907.8 L665.8,908.1 L666.8,908.5 L667.8,908.8 L668.8,909.2 L669.8,909.6 L670.8,910.0 L671.8,910.4 L672.8,910.8 L673.8,911.1 L674.8,911.5 L675.8,911.9 L676.8,912.3 L677.8,912.6 L678.8,913.0 L679.8,913.3 L680.8,913.7 L681.8,914.0 L682.8,914.4 L683.8,914.7 L684.8,915.0 L685.8,915.3 L686.8,915.6 L687.8,915.9 L688.8,916.2 L689.8,916.4 L690.8,916.7 L691.8,917.0 L692.8,917.2 L693.8,917.4 L694.8,917.6 L695.8,917.9 L696.8,918.1 L697.8,918.2 L698.8,918.4 L699.8,918.6 L700.8,918.8 L701.8,918.9 L702.8,919.1 L703.8,919.2 L704.8,919.3 L705.8,919.4 L706.8,919.5 L707.8,919.6 L708.8,919.7 L709.8,919.7 L710.8,919.8 L711.8,919.8 L712.8,919.8 L713.8,919.9 L714.8,919.9 L715.8,919.8 L716.8,919.8 L717.8,919.8 L718.8,919.7 L719.8,919.7 L720.8,919.6 L721.8,919.5 L722.8,919.4 L723.8,919.3 L724.8,919.2 L725.8,919.1 L726.8,918.9 L727.8,918.7 L728.8,918.6 L729.8,918.4 L730.8,918.2 L731.8,918.1 L732.8,917.9 L733.8,917.7 L734.8,917.5 L735.8,917.4 L736.8,917.2 L737.8,917.0 L738.8,916.9 L739.8,916.7 L740.8,916.6 L741.8,916.4 L742.8,916.3 L743.8,916.2 L744.8,916.0 L745.8,915.9 L746.8,915.8 L747.8,915.7 L748.8,915.6 L749.8,915.5 L750.8,915.4 L751.8,915.3 L752.8,915.2 L753.8,915.1 L754.8,915.0 L755.8,915.0 L756.8,914.9 L757.8,914.9 L758.8,914.8 L759.8,914.8 L760.8,914.8 L761.8,914.8 L762.8,914.8 L763.8,914.9 L764.8,914.9 L765.8,915.0 L766.8,915.0 L767.8,915.1 L768.8,915.2 L769.8,915.3 L770.8,915.5 L771.8,915.6 L772.8,915.7 L773.8,915.9 L774.8,916.0 L775.8,916.2 L776.8,916.4 L777.8,916.6 L778.8,916.7 L779.8,916.9 L780.8,917.1 L781.8,917.3 L782.8,917.5 L783.8,917.7 L784.8,917.9 L785.8,918.1 L786.8,918.3 L787.8,918.5 L788.8,918.7 L789.8,918.9 L790.8,919.1 L791.8,919.3 L792.8,919.5 L793.8,919.6 L794.8,919.8 L795.8,920.0 L796.8,920.1 L797.8,920.3 L798.8,920.4 L799.8,920.5 L800.8,920.7 L801.8,920.8 L802.8,920.9 L803.8,921.0 L804.8,921.0 L805.8,921.1 L806.8,921.2 L807.8,921.2 L808.8,921.3 L809.8,921.3 L810.8,921.3 L811.8,921.3 L812.8,921.3 L813.8,921.3 L814.8,921.3 L815.8,921.3 L816.8,921.2 L817.8,921.2 L818.8,921.1 L819.8,921.0 L820.8,921.0 L821.8,920.9 L822.8,920.8 L823.8,920.7 L824.8,920.6 L825.8,920.5 L826.8,920.3 L827.8,920.2 L828.8,920.1 L829.8,920.0 L830.8,919.8 L831.8,919.7 L832.8,919.5 L833.8,919.4 L834.5,919.3" stroke="#868686" stroke-width="12.3"/>
<path d="M98.8,114.8 L99.8,115.7 L100.8,116.6 L101.8,117.4 L102.8,118.3 L103.8,119.2 L104.8,120.1 L105.8,121.0 L106.8,121.8 L107.8,122.7 L108.8,123.6 L109.8,124.5 L110.8,125.4 L111.8,126.2 L112.8,127.1 L113.8,128.0 L114.8,128.9 L115.8,129.8 L116.8,130.6 L117.8,131.5 L118.8,132.4 L119.8,133.3 L120.8,134.2 L121.8,135.1 L122.8,136.0 L123.8,136.9 L124.8,137.8 L125.8,138.7 L126.8,139.6 L127.8,140.5 L128.8,141.4 L129.8,142.3 L130.8,143.2 L131.8,144.2 L132.8,145.1 L133.8,146.0 L134.8,147.0 L135.8,147.9 L136.8,148.9 L137.8,149.8 L138.8,150.8 L139.8,151.8 L140.8,152.7 L141.8,153.7 L142.8,154.7 L143.8,155.7 L144.8,156.8 L145.8,157.8 L146.8,158.8 L147.8,159.9 L148.8,160.9 L149.8,162.0 L150.8,163.0 L151.8,164.1 L152.8,165.2 L153.8,166.3 L154.8,167.4 L155.8,168.5 L156.8,169.6 L157.8,170.7 L158.8,171.8 L159.8,172.9 L160.8,174.0 L161.8,175.0 L162.8,176.0 L163.8,177.0 L164.8,177.9 L165.8,178.9 L166.8,179.8 L167.8,180.6 L168.8,181.4 L169.8,182.2 L170.8,183.0 L171.8,183.7 L172.8,184.3 L173.8,184.9 L174.8,185.4 L175.8,185.8 L176.8,186.1 L177.8,186.3 L178.8,186.4 L179.8,186.4 L180.8,186.2 L181.8,185.9 L182.8,185.4 L183.8,184.8 L184.8,184.1 L185.8,183.2 L186.8,182.1 L187.8,180.8 L188.8,179.4 L189.8,177.8 L190.8,176.1 L191.8,174.2 L192.8,172.1 L193.8,169.9 L194.8,167.5 L195.8,165.0 L196.8,162.3 L197.8,159.5 L198.8,156.6 L199.8,153.4 L200.8,150.1 L201.8,146.7 L202.8,143.1 L203.8,139.3 L204.8,135.3 L205.8,131.3 L206.8,127.1 L207.8,122.8 L208.8,118.4 L209.8,114.0 L210.8,109.5 L211.8,104.9 L212.8,100.4 L213.8,95.9 L214.8,91.4 L215.8,87.0 L216.8,82.7 L217.8,78.5 L218.8,74.5 L219.8,70.6 L220.8,67.0 L221.8,63.5 L222.8,60.3 L223.8,57.4 L224.8,54.7 L225.8,52.1 L226.8,49.8 L227.8,47.7 L228.8,45.7 L229.8,44.0 L230.8,42.4 L231.8,41.0 L232.8,39.8 L233.8,38.9 L234.8,38.1 L235.8,37.6 L236.8,37.3 L237.8,37.3 L238.8,37.5 L239.8,38.0 L240.8,38.7 L241.8,39.7 L242.8,40.8 L243.8,42.2 L244.8,43.8 L245.8,45.6 L246.8,47.6 L247.8,49.7 L248.8,52.1 L249.8,54.6 L250.8,57.3 L251.8,60.1 L252.8,63.0 L253.8,66.1 L254.8,69.2 L255.8,72.5 L256.8,75.8 L257.8,79.1 L258.8,82.4 L259.8,85.8 L260.8,89.1 L261.8,92.3 L262.8,95.5 L263.8,98.5 L264.8,101.4 L265.8,104.2 L266.8,106.9 L267.8,109.5 L268.8,112.0 L269.8,114.3 L270.8,116.6 L271.8,118.9 L272.8,121.0 L273.8,123.1 L274.8,125.0 L275.8,126.9 L276.8,128.7 L277.8,130.4 L278.8,132.0 L279.8,133.5 L280.8,134.8 L281.8,136.0 L282.8,137.0 L283.8,137.9 L284.8,138.7 L285.8,139.3 L286.8,139.8 L287.8,140.1 L288.8,140.4 L289.8,140.5 L290.8,140.5 L291.8,140.4 L292.8,140.2 L293.8,139.8 L294.8,139.4 L295.8,139.0 L296.8,138.4 L297.8,137.8 L298.8,137.1 L299.8,136.4 L300.8,135.6 L301.8,134.8 L302.8,134.0 L303.8,133.1 L304.8,132.3 L305.8,131.4 L306.8,130.4 L307.8,129.5 L308.8,128.5 L309.8,127.4 L310.8,126.4 L311.8,125.3 L312.8,124.2 L313.8,123.0 L314.8,121.8 L315.8,120.6 L316.8,119.3 L317.8,118.1 L318.8,116.7 L319.8,115.4 L320.8,114.1 L321.8,112.7 L322.8,111.4 L323.8,110.0 L324.8,108.6 L325.8,107.3 L326.8,105.9 L327.8,104.5 L328.8,103.2 L329.8,101.9 L330.8,100.6 L331.8,99.3 L332.8,98.1 L333.8,96.9 L334.8,95.7 L335.8,94.6 L336.8,93.6 L337.8,92.7 L338.8,91.8 L339.8,91.0 L340.8,90.3 L341.8,89.7 L342.8,89.2 L343.8,88.8 L344.8,88.4 L345.8,88.1 L346.8,87.9 L347.8,87.8 L348.8,87.8 L349.8,87.8 L350.8,88.0 L351.8,88.2 L352.8,88.5 L353.8,88.8 L354.8,89.2 L355.8,89.8 L356.8,90.4 L357.8,91.0 L358.8,91.8 L359.8,92.6 L360.8,93.6 L361.8,94.5 L362.8,95.6 L363.8,96.7 L364.8,97.8 L365.8,99.1 L366.8,100.3 L367.8,101.6 L368.8,102.9 L369.8,104.3 L370.8,105.6 L371.8,107.0 L372.8,108.4 L373.8,109.8 L374.8,111.2 L375.8,112.6 L376.8,114.0 L377.8,115.4 L378.8,116.8 L379.8,118.1 L380.8,119.5 L381.8,120.8 L382.8,122.1 L383.8,123.3 L384.8,124.6 L385.8,125.8 L386.8,126.9 L387.8,128.1 L388.8,129.1 L389.8,130.2 L390.8,131.2 L391.8,132.1 L392.8,133.0 L393.8,133.8 L394.8,134.6 L395.8,135.3 L396.8,136.0 L397.8,136.6 L398.8,137.2 L399.8,137.7 L400.8,138.1 L401.8,138.5 L402.8,138.8 L403.8,139.1 L404.8,139.3 L405.8,139.4 L406.8,139.5 L407.8,139.5 L408.8,139.5 L409.8,139.4 L410.8,139.2 L411.8,139.0 L412.8,138.8 L413.8,138.5 L414.8,138.1 L415.8,137.8 L416.8,137.4 L417.8,136.9 L418.8,136.5 L419.8,136.0 L420.8,135.5 L421.8,135.0 L422.8,134.5 L423.8,133.9 L424.8,133.4 L425.8,132.8 L426.8,132.2 L427.8,131.5 L428.8,130.8 L429.8,130.1 L430.8,129.3 L431.8,128.5 L432.8,127.6 L433.8,126.6 L434.8,125.7 L435.8,124.6 L436.8,123.6 L437.8,122.6 L438.8,121.6 L439.8,120.6 L440.8,119.7 L441.8,118.8 L442.8,118.0 L443.8,117.3 L444.8,116.7 L445.8,116.1 L446.8,115.5 L447.8,115.0 L448.8,114.5 L449.8,114.0 L450.8,113.5 L451.8,113.1 L452.8,112.7 L453.8,112.3 L454.8,112.0 L455.8,111.6 L456.8,111.3 L457.8,111.0 L458.8,110.8 L459.8,110.6 L460.8,110.4 L461.8,110.2 L462.8,110.1 L463.8,110.0 L464.8,109.9 L465.8,109.9 L466.8,109.9 L467.8,109.9 L468.8,109.9 L469.8,110.0 L470.8,110.0 L471.8,110.1 L472.8,110.3 L473.8,110.4 L474.8,110.5 L475.8,110.7 L476.8,110.9 L477.8,111.1 L478.8,111.3 L479.8,111.5 L480.8,111.7 L481.8,112.0 L482.8,112.2 L483.8,112.5 L484.8,112.7 L485.8,113.0 L486.8,113.3 L487.8,113.6 L488.8,113.9 L489.8,114.2 L490.8,114.5 L491.8,114.8 L492.8,115.1 L493.8,115.4 L494.8,115.7 L495.8,116.0 L496.8,116.3 L497.8,116.6 L498.8,116.9 L499.8,117.2 L500.8,117.5 L501.8,117.7 L502.8,118.0 L503.8,118.2 L504.8,118.5 L505.8,118.7 L506.8,118.9 L507.8,119.1 L508.8,119.3 L509.8,119.4 L510.8,119.6 L511.8,119.7 L512.8,119.9 L513.8,120.0 L514.8,120.1 L515.8,120.2 L516.8,120.3 L517.8,120.4 L518.8,120.5 L519.8,120.6 L520.8,120.7 L521.8,120.7 L522.8,120.8 L523.8,120.8 L524.8,120.9 L525.8,120.9 L526.8,121.0 L527.8,121.0 L528.8,121.0 L529.8,121.0 L530.8,121.0 L531.8,121.0 L532.8,121.0 L533.8,121.0 L534.8,121.0 L535.8,120.9 L536.8,120.9 L537.8,120.9 L538.8,120.8 L539.8,120.8 L540.8,120.8 L541.8,120.7 L542.8,120.7 L543.8,120.6 L544.8,120.6 L545.8,120.5 L546.8,120.5 L547.8,120.4 L548.8,120.4 L549.8,120.3 L550.8,120.2 L551.8,120.2 L552.8,120.1 L553.8,120.1 L554.8,120.0 L555.8,119.9 L556.8,119.8 L557.8,119.8 L558.8,119.7 L559.8,119.6 L560.8,119.5 L561.8,119.4 L562.8,119.4 L563.8,119.3 L564.8,119.2 L565.8,119.1 L566.8,118.9 L567.8,118.8 L568.8,118.7 L569.8,118.6 L570.8,118.5 L571.8,118.3 L572.8,118.2 L573.8,118.0 L574.8,117.9 L575.8,117.7 L576.8,117.5 L577.8,117.4 L578.8,117.2 L579.8,117.0 L580.8,116.8 L581.8,116.6 L582.8,116.4 L583.8,116.1 L584.8,115.9 L585.8,115.7 L586.8,115.4 L587.8,115.1 L588.8,114.8 L589.8,114.5 L590.8,114.2 L591.8,113.9 L592.8,113.6 L593.8,113.3 L594.8,112.9 L595.8,112.5 L596.8,112.2 L597.8,111.8 L598.8,111.4 L599.8,111.1 L600.8,110.7 L601.8,110.3 L602.8,109.9 L603.8,109.6 L604.8,109.2 L605.8,108.8 L606.8,108.5 L607.8,108.1 L608.8,107.7 L609.8,107.4 L610.8,107.1 L611.8,106.7 L612.8,106.4 L613.8,106.1 L614.8,105.8 L615.8,105.6 L616.8,105.3 L617.8,105.1 L618.8,104.8 L619.8,104.6 L620.8,104.4 L621.8,104.3 L622.8,104.1 L623.8,104.0 L624.8,103.9 L625.8,103.8 L626.8,103.7 L627.8,103.7 L628.8,103.7 L629.8,103.7 L630.8,103.8 L631.8,103.8 L632.8,103.9 L633.8,104.0 L634.8,104.2 L635.8,104.3 L636.8,104.5 L637.8,104.7 L638.8,104.9 L639.8,105.2 L640.8,105.4 L641.8,105.7 L642.8,106.0 L643.8,106.3 L644.8,106.6 L645.8,107.0 L646.8,107.3 L647.8,107.7 L648.8,108.0 L649.8,108.4 L650.8,108.8 L651.8,109.2 L652.8,109.6 L653.8,110.1 L654.8,110.5 L655.8,110.9 L656.8,111.4 L657.8,111.8 L658.8,112.3 L659.8,112.7 L660.8,113.1 L661.8,113.6 L662.8,114.0 L663.8,114.5 L664.8,114.9 L665.8,115.3 L666.8,115.7 L667.8,116.1 L668.8,116.5 L669.8,116.9 L670.8,117.3 L671.8,117.6 L672.8,118.0 L673.8,118.3 L674.8,118.7 L675.8,119.0 L676.8,119.3 L677.8,119.6 L678.8,119.8 L679.8,120.1 L680.8,120.3 L681.8,120.5 L682.8,120.7 L683.8,120.9 L684.8,121.1 L685.8,121.3 L686.8,121.4 L687.8,121.6 L688.8,121.7 L689.8,121.9 L690.8,122.0 L691.8,122.1 L692.8,122.2 L693.8,122.2 L694.8,122.3 L695.8,122.3 L696.8,122.3 L697.8,122.3 L698.8,122.2 L699.8,122.1 L700.8,121.9 L701.8,121.8 L702.8,121.6 L703.8,121.4 L704.8,121.1 L705.8,120.8 L706.8,120.5 L707.8,120.2 L708.8,119.9 L709.8,119.5 L710.8,119.1 L711.8,118.7 L712.8,118.3 L713.8,117.9 L714.8,117.4 L715.8,117.0 L716.8,116.5 L717.8,116.0 L718.8,115.6 L719.8,115.1 L720.8,114.6 L721.8,114.1 L722.8,113.6 L723.8,113.2 L724.8,112.7 L725.8,112.2 L726.8,111.8 L727.8,111.3 L728.8,110.9 L729.8,110.5 L730.8,110.0 L731.8,109.6 L732.8,109.3 L733.8,108.9 L734.8,108.6 L735.8,108.2 L736.8,107.9 L737.8,107.6 L738.8,107.4 L739.8,107.1 L740.8,106.9 L741.8,106.7 L742.8,106.5 L743.8,106.4 L744.8,106.2 L745.8,106.1 L746.8,106.0 L747.8,106.0 L748.8,105.9 L749.8,105.9 L750.8,105.9 L751.8,105.9 L752.8,106.0 L753.8,106.1 L754.8,106.2 L755.8,106.3 L756.8,106.5 L757.8,106.7 L758.8,106.9 L759.8,107.1 L760.8,107.4 L761.8,107.7 L762.8,108.0 L763.8,108.3 L764.8,108.7 L765.8,109.0 L766.8,109.4 L767.8,109.8 L768.8,110.3 L769.8,110.7 L770.8,111.2 L771.8,111.7 L772.8,112.1 L773.8,112.7 L774.8,113.2 L775.8,113.7 L776.8,114.2 L777.8,114.7 L778.8,115.3 L779.8,115.8 L780.8,116.3 L781.8,116.9 L782.8,117.4 L783.8,117.9 L784.8,118.4 L785.8,118.9 L786.8,119.4 L787.8,119.8 L788.8,120.3 L789.8,120.7 L790.8,121.1 L791.8,121.5 L792.8,121.9 L793.8,122.2 L794.8,122.6 L795.8,122.9 L796.8,123.2 L797.8,123.4 L798.8,123.7 L799.8,123.9 L800.8,124.2 L801.8,124.4 L802.8,124.5 L803.8,124.7 L804.8,124.8 L805.8,124.9 L806.8,125.0 L807.8,125.0 L808.8,125.0 L809.8,125.0 L810.8,125.0 L811.8,124.9 L812.8,124.8 L813.8,124.7 L814.8,124.5 L815.8,124.4 L816.8,124.2 L817.8,124.0 L818.8,123.8 L819.8,123.6 L820.8,123.4 L821.8,123.1 L822.8,122.8 L823.8,122.6 L824.8,122.3 L825.8,122.0 L826.8,121.6 L827.8,121.3 L828.8,121.0 L829.8,120.6 L830.8,120.2 L831.8,119.9 L832.8,119.5 L833.8,119.1 L834.5,118.8" stroke="#000" stroke-width="3.7"/>
<path d="M98.8,320.1 L99.8,320.9 L100.8,321.8 L101.8,322.6 L102.8,323.5 L103.8,324.3 L104.8,325.1 L105.8,326.0 L106.8,326.8 L107.8,327.6 L108.8,328.4 L109.8,329.3 L110.8,330.1 L111.8,330.9 L112.8,331.7 L113.8,332.5 L114.8,333.3 L115.8,334.1 L116.8,334.9 L117.8,335.7 L118.8,336.5 L119.8,337.3 L120.8,338.0 L121.8,338.8 L122.8,339.6 L123.8,340.4 L124.8,341.1 L125.8,341.9 L126.8,342.6 L127.8,343.4 L128.8,344.1 L129.8,344.9 L130.8,345.6 L131.8,346.3 L132.8,347.0 L133.8,347.6 L134.8,348.3 L135.8,348.9 L136.8,349.5 L137.8,350.1 L138.8,350.7 L139.8,351.3 L140.8,351.9 L141.8,352.5 L142.8,353.1 L143.8,353.7 L144.8,354.3 L145.8,355.0 L146.8,355.7 L147.8,356.4 L148.8,357.2 L149.8,358.0 L150.8,358.8 L151.8,359.7 L152.8,360.7 L153.8,361.7 L154.8,362.7 L155.8,363.7 L156.8,364.8 L157.8,365.9 L158.8,367.0 L159.8,368.1 L160.8,369.2 L161.8,370.4 L162.8,371.5 L163.8,372.6 L164.8,373.7 L165.8,374.8 L166.8,375.9 L167.8,376.9 L168.8,377.9 L169.8,378.9 L170.8,379.8 L171.8,380.7 L172.8,381.5 L173.8,382.2 L174.8,382.9 L175.8,383.5 L176.8,384.1 L177.8,384.5 L178.8,384.9 L179.8,385.2 L180.8,385.4 L181.8,385.4 L182.8,385.3 L183.8,385.1 L184.8,384.8 L185.8,384.2 L186.8,383.5 L187.8,382.6 L188.8,381.5 L189.8,380.1 L190.8,378.6 L191.8,376.8 L192.8,374.7 L193.8,372.5 L194.8,370.0 L195.8,367.3 L196.8,364.4 L197.8,361.3 L198.8,358.0 L199.8,354.6 L200.8,351.1 L201.8,347.4 L202.8,343.6 L203.8,339.7 L204.8,335.8 L205.8,331.7 L206.8,327.7 L207.8,323.6 L208.8,319.5 L209.8,315.4 L210.8,311.3 L211.8,307.3 L212.8,303.2 L213.8,299.2 L214.8,295.3 L215.8,291.4 L216.8,287.6 L217.8,283.8 L218.8,280.1 L219.8,276.5 L220.8,273.0 L221.8,269.6 L222.8,266.4 L223.8,263.2 L224.8,260.2 L225.8,257.4 L226.8,254.7 L227.8,252.2 L228.8,249.9 L229.8,248.0 L230.8,246.3 L231.8,244.9 L232.8,243.9 L233.8,243.1 L234.8,242.6 L235.8,242.4 L236.8,242.4 L237.8,242.7 L238.8,243.2 L239.8,243.9 L240.8,244.9 L241.8,246.1 L242.8,247.6 L243.8,249.3 L244.8,251.2 L245.8,253.4 L246.8,255.8 L247.8,258.4 L248.8,261.2 L249.8,264.2 L250.8,267.3 L251.8,270.6 L252.8,273.9 L253.8,277.4 L254.8,280.9 L255.8,284.5 L256.8,288.1 L257.8,291.7 L258.8,295.3 L259.8,298.9 L260.8,302.5 L261.8,306.0 L262.8,309.4 L263.8,312.8 L264.8,316.0 L265.8,319.1 L266.8,322.2 L267.8,325.0 L268.8,327.8 L269.8,330.4 L270.8,332.8 L271.8,335.1 L272.8,337.2 L273.8,339.1 L274.8,340.8 L275.8,342.3 L276.8,343.5 L277.8,344.5 L278.8,345.4 L279.8,346.0 L280.8,346.5 L281.8,346.9 L282.8,347.1 L283.8,347.1 L284.8,347.1 L285.8,347.0 L286.8,346.8 L287.8,346.5 L288.8,346.1 L289.8,345.6 L290.8,345.0 L291.8,344.3 L292.8,343.5 L293.8,342.7 L294.8,341.7 L295.8,340.7 L296.8,339.6 L297.8,338.4 L298.8,337.1 L299.8,335.8 L300.8,334.5 L301.8,333.1 L302.8,331.6 L303.8,330.2 L304.8,328.7 L305.8,327.2 L306.8,325.8 L307.8,324.3 L308.8,322.9 L309.8,321.4 L310.8,320.0 L311.8,318.5 L312.8,317.1 L313.8,315.7 L314.8,314.3 L315.8,313.0 L316.8,311.7 L317.8,310.3 L318.8,309.1 L319.8,307.8 L320.8,306.6 L321.8,305.4 L322.8,304.2 L323.8,303.1 L324.8,302.0 L325.8,301.0 L326.8,300.0 L327.8,299.0 L328.8,298.1 L329.8,297.3 L330.8,296.5 L331.8,295.7 L332.8,295.0 L333.8,294.3 L334.8,293.7 L335.8,293.2 L336.8,292.7 L337.8,292.2 L338.8,291.8 L339.8,291.5 L340.8,291.2 L341.8,290.9 L342.8,290.8 L343.8,290.6 L344.8,290.6 L345.8,290.6 L346.8,290.7 L347.8,290.9 L348.8,291.1 L349.8,291.4 L350.8,291.8 L351.8,292.3 L352.8,292.8 L353.8,293.5 L354.8,294.2 L355.8,295.0 L356.8,295.9 L357.8,296.9 L358.8,298.0 L359.8,299.1 L360.8,300.3 L361.8,301.6 L362.8,303.0 L363.8,304.4 L364.8,305.9 L365.8,307.4 L366.8,309.0 L367.8,310.6 L368.8,312.3 L369.8,314.0 L370.8,315.7 L371.8,317.4 L372.8,319.0 L373.8,320.7 L374.8,322.3 L375.8,324.0 L376.8,325.6 L377.8,327.1 L378.8,328.6 L379.8,330.1 L380.8,331.6 L381.8,333.0 L382.8,334.4 L383.8,335.7 L384.8,337.0 L385.8,338.2 L386.8,339.4 L387.8,340.5 L388.8,341.5 L389.8,342.5 L390.8,343.4 L391.8,344.2 L392.8,344.9 L393.8,345.5 L394.8,346.0 L395.8,346.4 L396.8,346.8 L397.8,347.0 L398.8,347.1 L399.8,347.1 L400.8,347.0 L401.8,346.9 L402.8,346.6 L403.8,346.2 L404.8,345.7 L405.8,345.1 L406.8,344.4 L407.8,343.6 L408.8,342.8 L409.8,341.8 L410.8,340.8 L411.8,339.7 L412.8,338.5 L413.8,337.4 L414.8,336.2 L415.8,334.9 L416.8,333.7 L417.8,332.5 L418.8,331.3 L419.8,330.2 L420.8,329.0 L421.8,327.9 L422.8,326.7 L423.8,325.7 L424.8,324.6 L425.8,323.6 L426.8,322.6 L427.8,321.7 L428.8,320.8 L429.8,320.0 L430.8,319.2 L431.8,318.5 L432.8,317.8 L433.8,317.2 L434.8,316.7 L435.8,316.2 L436.8,315.8 L437.8,315.5 L438.8,315.2 L439.8,315.0 L440.8,314.9 L441.8,314.8 L442.8,314.8 L443.8,314.8 L444.8,314.9 L445.8,315.0 L446.8,315.1 L447.8,315.3 L448.8,315.5 L449.8,315.8 L450.8,316.0 L451.8,316.3 L452.8,316.7 L453.8,317.0 L454.8,317.4 L455.8,317.9 L456.8,318.3 L457.8,318.8 L458.8,319.3 L459.8,319.8 L460.8,320.2 L461.8,320.7 L462.8,321.2 L463.8,321.7 L464.8,322.1 L465.8,322.6 L466.8,323.0 L467.8,323.4 L468.8,323.7 L469.8,324.0 L470.8,324.3 L471.8,324.5 L472.8,324.7 L473.8,324.9 L474.8,325.1 L475.8,325.2 L476.8,325.3 L477.8,325.4 L478.8,325.5 L479.8,325.5 L480.8,325.5 L481.8,325.5 L482.8,325.5 L483.8,325.5 L484.8,325.4 L485.8,325.3 L486.8,325.2 L487.8,325.0 L488.8,324.9 L489.8,324.7 L490.8,324.5 L491.8,324.3 L492.8,324.1 L493.8,323.8 L494.8,323.5 L495.8,323.2 L496.8,322.9 L497.8,322.6 L498.8,322.3 L499.8,322.0 L500.8,321.7 L501.8,321.3 L502.8,321.0 L503.8,320.7 L504.8,320.4 L505.8,320.1 L506.8,319.8 L507.8,319.5 L508.8,319.3 L509.8,319.0 L510.8,318.8 L511.8,318.5 L512.8,318.3 L513.8,318.1 L514.8,317.9 L515.8,317.7 L516.8,317.6 L517.8,317.4 L518.8,317.3 L519.8,317.2 L520.8,317.0 L521.8,317.0 L522.8,316.9 L523.8,316.9 L524.8,316.8 L525.8,316.8 L526.8,316.8 L527.8,316.8 L528.8,316.9 L529.8,317.0 L530.8,317.1 L531.8,317.2 L532.8,317.3 L533.8,317.5 L534.8,317.6 L535.8,317.8 L536.8,318.1 L537.8,318.3 L538.8,318.6 L539.8,318.9 L540.8,319.2 L541.8,319.5 L542.8,319.9 L543.8,320.2 L544.8,320.6 L545.8,321.0 L546.8,321.4 L547.8,321.8 L548.8,322.3 L549.8,322.7 L550.8,323.1 L551.8,323.6 L552.8,324.0 L553.8,324.4 L554.8,324.9 L555.8,325.3 L556.8,325.7 L557.8,326.1 L558.8,326.5 L559.8,326.9 L560.8,327.2 L561.8,327.6 L562.8,328.0 L563.8,328.3 L564.8,328.6 L565.8,329.0 L566.8,329.3 L567.8,329.6 L568.8,329.8 L569.8,330.1 L570.8,330.4 L571.8,330.6 L572.8,330.8 L573.8,331.0 L574.8,331.2 L575.8,331.3 L576.8,331.4 L577.8,331.5 L578.8,331.6 L579.8,331.7 L580.8,331.7 L581.8,331.7 L582.8,331.7 L583.8,331.6 L584.8,331.5 L585.8,331.3 L586.8,331.1 L587.8,330.8 L588.8,330.5 L589.8,330.1 L590.8,329.6 L591.8,329.1 L592.8,328.5 L593.8,327.8 L594.8,327.0 L595.8,326.2 L596.8,325.4 L597.8,324.5 L598.8,323.5 L599.8,322.5 L600.8,321.5 L601.8,320.4 L602.8,319.3 L603.8,318.1 L604.8,317.0 L605.8,315.8 L606.8,314.7 L607.8,313.5 L608.8,312.4 L609.8,311.2 L610.8,310.2 L611.8,309.1 L612.8,308.1 L613.8,307.1 L614.8,306.2 L615.8,305.3 L616.8,304.5 L617.8,303.7 L618.8,303.0 L619.8,302.4 L620.8,301.7 L621.8,301.2 L622.8,300.7 L623.8,300.2 L624.8,299.8 L625.8,299.5 L626.8,299.1 L627.8,298.8 L628.8,298.6 L629.8,298.4 L630.8,298.2 L631.8,298.0 L632.8,297.9 L633.8,297.8 L634.8,297.8 L635.8,297.8 L636.8,298.0 L637.8,298.2 L638.8,298.6 L639.8,299.0 L640.8,299.5 L641.8,300.0 L642.8,300.7 L643.8,301.4 L644.8,302.1 L645.8,302.9 L646.8,303.8 L647.8,304.7 L648.8,305.6 L649.8,306.6 L650.8,307.6 L651.8,308.7 L652.8,309.8 L653.8,310.9 L654.8,312.0 L655.8,313.2 L656.8,314.3 L657.8,315.5 L658.8,316.7 L659.8,317.8 L660.8,319.0 L661.8,320.1 L662.8,321.2 L663.8,322.3 L664.8,323.3 L665.8,324.3 L666.8,325.2 L667.8,326.1 L668.8,326.9 L669.8,327.7 L670.8,328.4 L671.8,329.1 L672.8,329.7 L673.8,330.3 L674.8,330.9 L675.8,331.4 L676.8,331.8 L677.8,332.3 L678.8,332.7 L679.8,333.0 L680.8,333.4 L681.8,333.7 L682.8,334.0 L683.8,334.2 L684.8,334.4 L685.8,334.6 L686.8,334.7 L687.8,334.8 L688.8,334.9 L689.8,334.9 L690.8,334.9 L691.8,334.8 L692.8,334.6 L693.8,334.5 L694.8,334.3 L695.8,334.0 L696.8,333.7 L697.8,333.4 L698.8,333.0 L699.8,332.6 L700.8,332.1 L701.8,331.6 L702.8,331.1 L703.8,330.5 L704.8,329.9 L705.8,329.2 L706.8,328.6 L707.8,327.9 L708.8,327.1 L709.8,326.4 L710.8,325.6 L711.8,324.9 L712.8,324.1 L713.8,323.3 L714.8,322.5 L715.8,321.6 L716.8,320.8 L717.8,320.0 L718.8,319.2 L719.8,318.3 L720.8,317.5 L721.8,316.7 L722.8,315.9 L723.8,315.1 L724.8,314.3 L725.8,313.6 L726.8,312.8 L727.8,312.1 L728.8,311.4 L729.8,310.7 L730.8,310.0 L731.8,309.4 L732.8,308.8 L733.8,308.2 L734.8,307.7 L735.8,307.2 L736.8,306.7 L737.8,306.3 L738.8,305.9 L739.8,305.6 L740.8,305.3 L741.8,305.1 L742.8,304.9 L743.8,304.7 L744.8,304.6 L745.8,304.5 L746.8,304.5 L747.8,304.5 L748.8,304.6 L749.8,304.7 L750.8,304.9 L751.8,305.1 L752.8,305.3 L753.8,305.6 L754.8,306.0 L755.8,306.3 L756.8,306.7 L757.8,307.2 L758.8,307.6 L759.8,308.2 L760.8,308.7 L761.8,309.3 L762.8,309.9 L763.8,310.5 L764.8,311.2 L765.8,311.8 L766.8,312.6 L767.8,313.3 L768.8,314.0 L769.8,314.8 L770.8,315.6 L771.8,316.4 L772.8,317.2 L773.8,318.1 L774.8,318.9 L775.8,319.7 L776.8,320.6 L777.8,321.4 L778.8,322.2 L779.8,323.0 L780.8,323.8 L781.8,324.5 L782.8,325.2 L783.8,325.9 L784.8,326.6 L785.8,327.2 L786.8,327.7 L787.8,328.3 L788.8,328.8 L789.8,329.3 L790.8,329.8 L791.8,330.2 L792.8,330.7 L793.8,331.1 L794.8,331.4 L795.8,331.8 L796.8,332.2 L797.8,332.5 L798.8,332.8 L799.8,333.1 L800.8,333.4 L801.8,333.6 L802.8,333.8 L803.8,333.9 L804.8,334.1 L805.8,334.2 L806.8,334.2 L807.8,334.2 L808.8,334.2 L809.8,334.1 L810.8,333.9 L811.8,333.8 L812.8,333.5 L813.8,333.3 L814.8,333.0 L815.8,332.7 L816.8,332.4 L817.8,332.1 L818.8,331.7 L819.8,331.4 L820.8,331.0 L821.8,330.6 L822.8,330.2 L823.8,329.8 L824.8,329.3 L825.8,328.9 L826.8,328.4 L827.8,328.0 L828.8,327.5 L829.8,327.0 L830.8,326.4 L831.8,325.9 L832.8,325.3 L833.8,324.7 L834.5,324.3" stroke="#000" stroke-width="3.7"/>
<path d="M98.8,525.1 L99.8,526.2 L100.8,527.4 L101.8,528.5 L102.8,529.6 L103.8,530.7 L104.8,531.8 L105.8,532.9 L106.8,534.0 L107.8,535.0 L108.8,536.0 L109.8,537.0 L110.8,537.9 L111.8,538.8 L112.8,539.7 L113.8,540.5 L114.8,541.4 L115.8,542.1 L116.8,542.9 L117.8,543.6 L118.8,544.3 L119.8,545.0 L120.8,545.6 L121.8,546.3 L122.8,546.9 L123.8,547.4 L124.8,548.0 L125.8,548.6 L126.8,549.1 L127.8,549.7 L128.8,550.2 L129.8,550.8 L130.8,551.4 L131.8,552.0 L132.8,552.6 L133.8,553.3 L134.8,553.9 L135.8,554.6 L136.8,555.3 L137.8,556.1 L138.8,556.8 L139.8,557.7 L140.8,558.5 L141.8,559.4 L142.8,560.3 L143.8,561.3 L144.8,562.3 L145.8,563.3 L146.8,564.3 L147.8,565.4 L148.8,566.5 L149.8,567.6 L150.8,568.8 L151.8,569.9 L152.8,571.1 L153.8,572.3 L154.8,573.5 L155.8,574.7 L156.8,575.9 L157.8,577.2 L158.8,578.4 L159.8,579.7 L160.8,581.0 L161.8,582.3 L162.8,583.6 L163.8,584.8 L164.8,586.1 L165.8,587.2 L166.8,588.4 L167.8,589.4 L168.8,590.4 L169.8,591.3 L170.8,592.1 L171.8,592.9 L172.8,593.6 L173.8,594.1 L174.8,594.6 L175.8,595.0 L176.8,595.3 L177.8,595.5 L178.8,595.6 L179.8,595.6 L180.8,595.5 L181.8,595.2 L182.8,594.8 L183.8,594.3 L184.8,593.6 L185.8,592.6 L186.8,591.5 L187.8,590.1 L188.8,588.6 L189.8,586.9 L190.8,585.0 L191.8,583.0 L192.8,580.8 L193.8,578.6 L194.8,576.3 L195.8,573.8 L196.8,571.3 L197.8,568.6 L198.8,565.8 L199.8,562.8 L200.8,559.6 L201.8,556.2 L202.8,552.7 L203.8,549.0 L204.8,545.2 L205.8,541.3 L206.8,537.4 L207.8,533.4 L208.8,529.3 L209.8,525.2 L210.8,521.1 L211.8,516.9 L212.8,512.7 L213.8,508.5 L214.8,504.2 L215.8,499.8 L216.8,495.5 L217.8,491.1 L218.8,486.8 L219.8,482.5 L220.8,478.4 L221.8,474.4 L222.8,470.5 L223.8,466.9 L224.8,463.5 L225.8,460.4 L226.8,457.5 L227.8,454.8 L228.8,452.5 L229.8,450.4 L230.8,448.5 L231.8,447.0 L232.8,445.7 L233.8,444.6 L234.8,443.9 L235.8,443.4 L236.8,443.1 L237.8,443.1 L238.8,443.4 L239.8,443.9 L240.8,444.7 L241.8,445.7 L242.8,447.0 L243.8,448.5 L244.8,450.3 L245.8,452.3 L246.8,454.5 L247.8,456.9 L248.8,459.5 L249.8,462.3 L250.8,465.2 L251.8,468.3 L252.8,471.5 L253.8,474.9 L254.8,478.3 L255.8,481.9 L256.8,485.5 L257.8,489.1 L258.8,492.8 L259.8,496.5 L260.8,500.2 L261.8,503.9 L262.8,507.6 L263.8,511.2 L264.8,514.8 L265.8,518.3 L266.8,521.8 L267.8,525.2 L268.8,528.6 L269.8,531.9 L270.8,535.1 L271.8,538.2 L272.8,541.1 L273.8,543.8 L274.8,546.2 L275.8,548.4 L276.8,550.3 L277.8,552.0 L278.8,553.5 L279.8,554.8 L280.8,555.9 L281.8,556.9 L282.8,557.9 L283.8,558.6 L284.8,559.3 L285.8,559.8 L286.8,560.2 L287.8,560.4 L288.8,560.5 L289.8,560.4 L290.8,560.2 L291.8,559.8 L292.8,559.3 L293.8,558.6 L294.8,557.7 L295.8,556.7 L296.8,555.5 L297.8,554.2 L298.8,552.7 L299.8,551.1 L300.8,549.4 L301.8,547.6 L302.8,545.7 L303.8,543.7 L304.8,541.6 L305.8,539.5 L306.8,537.4 L307.8,535.2 L308.8,532.9 L309.8,530.7 L310.8,528.4 L311.8,526.1 L312.8,523.8 L313.8,521.5 L314.8,519.2 L315.8,517.0 L316.8,514.8 L317.8,512.6 L318.8,510.4 L319.8,508.3 L320.8,506.3 L321.8,504.4 L322.8,502.5 L323.8,500.8 L324.8,499.1 L325.8,497.6 L326.8,496.2 L327.8,494.9 L328.8,493.6 L329.8,492.5 L330.8,491.5 L331.8,490.5 L332.8,489.7 L333.8,488.9 L334.8,488.2 L335.8,487.6 L336.8,487.1 L337.8,486.6 L338.8,486.2 L339.8,485.9 L340.8,485.7 L341.8,485.6 L342.8,485.6 L343.8,485.7 L344.8,485.9 L345.8,486.1 L346.8,486.5 L347.8,486.9 L348.8,487.5 L349.8,488.1 L350.8,488.9 L351.8,489.7 L352.8,490.6 L353.8,491.6 L354.8,492.7 L355.8,493.8 L356.8,495.0 L357.8,496.3 L358.8,497.6 L359.8,499.0 L360.8,500.4 L361.8,501.9 L362.8,503.4 L363.8,505.0 L364.8,506.5 L365.8,508.2 L366.8,509.8 L367.8,511.4 L368.8,513.1 L369.8,514.7 L370.8,516.4 L371.8,518.1 L372.8,519.8 L373.8,521.5 L374.8,523.1 L375.8,524.8 L376.8,526.4 L377.8,528.1 L378.8,529.7 L379.8,531.3 L380.8,532.8 L381.8,534.4 L382.8,535.9 L383.8,537.3 L384.8,538.8 L385.8,540.2 L386.8,541.5 L387.8,542.8 L388.8,544.1 L389.8,545.3 L390.8,546.5 L391.8,547.6 L392.8,548.6 L393.8,549.6 L394.8,550.5 L395.8,551.3 L396.8,552.0 L397.8,552.7 L398.8,553.3 L399.8,553.8 L400.8,554.2 L401.8,554.5 L402.8,554.7 L403.8,554.8 L404.8,554.8 L405.8,554.7 L406.8,554.5 L407.8,554.2 L408.8,553.8 L409.8,553.4 L410.8,552.8 L411.8,552.2 L412.8,551.5 L413.8,550.7 L414.8,549.9 L415.8,549.0 L416.8,548.0 L417.8,546.9 L418.8,545.8 L419.8,544.6 L420.8,543.3 L421.8,542.0 L422.8,540.6 L423.8,539.2 L424.8,537.8 L425.8,536.4 L426.8,535.0 L427.8,533.6 L428.8,532.2 L429.8,530.9 L430.8,529.7 L431.8,528.5 L432.8,527.4 L433.8,526.4 L434.8,525.5 L435.8,524.6 L436.8,523.8 L437.8,523.0 L438.8,522.3 L439.8,521.6 L440.8,521.0 L441.8,520.4 L442.8,519.9 L443.8,519.5 L444.8,519.1 L445.8,518.8 L446.8,518.5 L447.8,518.3 L448.8,518.1 L449.8,518.0 L450.8,517.9 L451.8,517.9 L452.8,517.9 L453.8,517.9 L454.8,518.0 L455.8,518.1 L456.8,518.3 L457.8,518.5 L458.8,518.7 L459.8,519.0 L460.8,519.2 L461.8,519.5 L462.8,519.8 L463.8,520.1 L464.8,520.5 L465.8,520.8 L466.8,521.1 L467.8,521.5 L468.8,521.9 L469.8,522.2 L470.8,522.6 L471.8,522.9 L472.8,523.3 L473.8,523.6 L474.8,523.9 L475.8,524.3 L476.8,524.6 L477.8,524.9 L478.8,525.2 L479.8,525.4 L480.8,525.7 L481.8,525.9 L482.8,526.2 L483.8,526.4 L484.8,526.6 L485.8,526.8 L486.8,526.9 L487.8,527.1 L488.8,527.2 L489.8,527.4 L490.8,527.5 L491.8,527.6 L492.8,527.6 L493.8,527.7 L494.8,527.8 L495.8,527.8 L496.8,527.8 L497.8,527.8 L498.8,527.8 L499.8,527.8 L500.8,527.7 L501.8,527.7 L502.8,527.6 L503.8,527.5 L504.8,527.5 L505.8,527.3 L506.8,527.2 L507.8,527.1 L508.8,527.0 L509.8,526.8 L510.8,526.7 L511.8,526.6 L512.8,526.4 L513.8,526.2 L514.8,526.1 L515.8,525.9 L516.8,525.8 L517.8,525.6 L518.8,525.4 L519.8,525.3 L520.8,525.2 L521.8,525.0 L522.8,524.9 L523.8,524.8 L524.8,524.7 L525.8,524.6 L526.8,524.6 L527.8,524.5 L528.8,524.5 L529.8,524.5 L530.8,524.5 L531.8,524.5 L532.8,524.5 L533.8,524.5 L534.8,524.5 L535.8,524.6 L536.8,524.6 L537.8,524.7 L538.8,524.8 L539.8,524.8 L540.8,524.9 L541.8,525.1 L542.8,525.2 L543.8,525.3 L544.8,525.5 L545.8,525.7 L546.8,525.9 L547.8,526.1 L548.8,526.4 L549.8,526.6 L550.8,526.9 L551.8,527.2 L552.8,527.5 L553.8,527.9 L554.8,528.2 L555.8,528.6 L556.8,528.9 L557.8,529.3 L558.8,529.6 L559.8,529.9 L560.8,530.3 L561.8,530.6 L562.8,530.9 L563.8,531.2 L564.8,531.4 L565.8,531.7 L566.8,531.9 L567.8,532.2 L568.8,532.4 L569.8,532.6 L570.8,532.8 L571.8,533.0 L572.8,533.1 L573.8,533.3 L574.8,533.4 L575.8,533.5 L576.8,533.6 L577.8,533.7 L578.8,533.7 L579.8,533.7 L580.8,533.7 L581.8,533.6 L582.8,533.5 L583.8,533.3 L584.8,533.1 L585.8,532.8 L586.8,532.5 L587.8,532.1 L588.8,531.7 L589.8,531.2 L590.8,530.7 L591.8,530.1 L592.8,529.5 L593.8,528.9 L594.8,528.2 L595.8,527.5 L596.8,526.7 L597.8,526.0 L598.8,525.2 L599.8,524.4 L600.8,523.6 L601.8,522.7 L602.8,521.9 L603.8,521.1 L604.8,520.3 L605.8,519.5 L606.8,518.7 L607.8,517.9 L608.8,517.1 L609.8,516.3 L610.8,515.5 L611.8,514.8 L612.8,514.0 L613.8,513.3 L614.8,512.6 L615.8,512.0 L616.8,511.3 L617.8,510.7 L618.8,510.1 L619.8,509.5 L620.8,509.0 L621.8,508.5 L622.8,508.0 L623.8,507.5 L624.8,507.1 L625.8,506.7 L626.8,506.4 L627.8,506.1 L628.8,505.9 L629.8,505.7 L630.8,505.5 L631.8,505.4 L632.8,505.3 L633.8,505.3 L634.8,505.3 L635.8,505.4 L636.8,505.5 L637.8,505.7 L638.8,505.9 L639.8,506.2 L640.8,506.5 L641.8,506.8 L642.8,507.3 L643.8,507.7 L644.8,508.3 L645.8,508.8 L646.8,509.5 L647.8,510.1 L648.8,510.9 L649.8,511.7 L650.8,512.5 L651.8,513.3 L652.8,514.2 L653.8,515.1 L654.8,516.1 L655.8,517.0 L656.8,518.0 L657.8,519.0 L658.8,520.0 L659.8,520.9 L660.8,521.9 L661.8,522.9 L662.8,523.8 L663.8,524.7 L664.8,525.6 L665.8,526.5 L666.8,527.4 L667.8,528.2 L668.8,529.0 L669.8,529.7 L670.8,530.4 L671.8,531.1 L672.8,531.7 L673.8,532.3 L674.8,532.8 L675.8,533.3 L676.8,533.8 L677.8,534.2 L678.8,534.6 L679.8,535.0 L680.8,535.3 L681.8,535.7 L682.8,536.0 L683.8,536.3 L684.8,536.5 L685.8,536.7 L686.8,536.9 L687.8,537.1 L688.8,537.2 L689.8,537.3 L690.8,537.4 L691.8,537.4 L692.8,537.4 L693.8,537.3 L694.8,537.2 L695.8,537.1 L696.8,536.9 L697.8,536.6 L698.8,536.3 L699.8,536.0 L700.8,535.6 L701.8,535.1 L702.8,534.6 L703.8,534.0 L704.8,533.4 L705.8,532.7 L706.8,532.1 L707.8,531.3 L708.8,530.6 L709.8,529.8 L710.8,529.0 L711.8,528.1 L712.8,527.3 L713.8,526.5 L714.8,525.6 L715.8,524.8 L716.8,523.9 L717.8,523.1 L718.8,522.3 L719.8,521.4 L720.8,520.6 L721.8,519.8 L722.8,519.0 L723.8,518.2 L724.8,517.5 L725.8,516.8 L726.8,516.0 L727.8,515.4 L728.8,514.7 L729.8,514.1 L730.8,513.5 L731.8,512.9 L732.8,512.4 L733.8,511.9 L734.8,511.5 L735.8,511.1 L736.8,510.8 L737.8,510.5 L738.8,510.3 L739.8,510.1 L740.8,510.0 L741.8,509.9 L742.8,509.8 L743.8,509.8 L744.8,509.8 L745.8,509.8 L746.8,509.9 L747.8,510.0 L748.8,510.1 L749.8,510.3 L750.8,510.5 L751.8,510.7 L752.8,511.0 L753.8,511.3 L754.8,511.7 L755.8,512.1 L756.8,512.6 L757.8,513.1 L758.8,513.6 L759.8,514.2 L760.8,514.9 L761.8,515.5 L762.8,516.2 L763.8,517.0 L764.8,517.7 L765.8,518.5 L766.8,519.2 L767.8,520.0 L768.8,520.8 L769.8,521.6 L770.8,522.4 L771.8,523.2 L772.8,523.9 L773.8,524.7 L774.8,525.5 L775.8,526.2 L776.8,526.9 L777.8,527.6 L778.8,528.3 L779.8,528.9 L780.8,529.6 L781.8,530.1 L782.8,530.7 L783.8,531.2 L784.8,531.7 L785.8,532.1 L786.8,532.5 L787.8,532.9 L788.8,533.3 L789.8,533.6 L790.8,533.9 L791.8,534.2 L792.8,534.5 L793.8,534.7 L794.8,534.9 L795.8,535.1 L796.8,535.2 L797.8,535.4 L798.8,535.5 L799.8,535.6 L800.8,535.7 L801.8,535.7 L802.8,535.7 L803.8,535.7 L804.8,535.7 L805.8,535.7 L806.8,535.6 L807.8,535.5 L808.8,535.4 L809.8,535.3 L810.8,535.1 L811.8,535.0 L812.8,534.8 L813.8,534.6 L814.8,534.4 L815.8,534.2 L816.8,533.9 L817.8,533.7 L818.8,533.4 L819.8,533.2 L820.8,532.9 L821.8,532.6 L822.8,532.3 L823.8,532.0 L824.8,531.7 L825.8,531.4 L826.8,531.1 L827.8,530.7 L828.8,530.4 L829.8,530.0 L830.8,529.7 L831.8,529.3 L832.8,528.9 L833.8,528.6 L834.5,528.3" stroke="#000" stroke-width="3.7"/>
<path d="M98.8,730.9 L99.8,731.6 L100.8,732.2 L101.8,732.9 L102.8,733.6 L103.8,734.2 L104.8,734.9 L105.8,735.7 L106.8,736.4 L107.8,737.2 L108.8,738.0 L109.8,738.8 L110.8,739.7 L111.8,740.5 L112.8,741.4 L113.8,742.3 L114.8,743.3 L115.8,744.2 L116.8,745.2 L117.8,746.1 L118.8,747.1 L119.8,748.1 L120.8,749.1 L121.8,750.0 L122.8,751.0 L123.8,752.0 L124.8,752.9 L125.8,753.9 L126.8,754.8 L127.8,755.7 L128.8,756.5 L129.8,757.4 L130.8,758.2 L131.8,759.0 L132.8,759.7 L133.8,760.5 L134.8,761.2 L135.8,761.8 L136.8,762.5 L137.8,763.1 L138.8,763.7 L139.8,764.3 L140.8,764.9 L141.8,765.5 L142.8,766.1 L143.8,766.7 L144.8,767.3 L145.8,767.9 L146.8,768.4 L147.8,769.0 L148.8,769.7 L149.8,770.3 L150.8,770.9 L151.8,771.6 L152.8,772.3 L153.8,773.0 L154.8,773.8 L155.8,774.7 L156.8,775.6 L157.8,776.6 L158.8,777.7 L159.8,778.9 L160.8,780.2 L161.8,781.5 L162.8,782.9 L163.8,784.4 L164.8,785.8 L165.8,787.3 L166.8,788.7 L167.8,790.1 L168.8,791.5 L169.8,792.7 L170.8,794.0 L171.8,795.2 L172.8,796.3 L173.8,797.4 L174.8,798.4 L175.8,799.4 L176.8,800.2 L177.8,801.1 L178.8,801.8 L179.8,802.5 L180.8,803.1 L181.8,803.5 L182.8,803.9 L183.8,804.2 L184.8,804.3 L185.8,804.2 L186.8,804.0 L187.8,803.6 L188.8,802.8 L189.8,801.9 L190.8,800.6 L191.8,798.9 L192.8,797.1 L193.8,794.9 L194.8,792.5 L195.8,789.9 L196.8,787.2 L197.8,784.2 L198.8,781.0 L199.8,777.5 L200.8,773.8 L201.8,769.8 L202.8,765.5 L203.8,760.9 L204.8,756.1 L205.8,751.2 L206.8,746.0 L207.8,740.8 L208.8,735.4 L209.8,730.0 L210.8,724.6 L211.8,719.2 L212.8,713.8 L213.8,708.6 L214.8,703.5 L215.8,698.5 L216.8,693.6 L217.8,688.9 L218.8,684.3 L219.8,679.9 L220.8,675.7 L221.8,671.7 L222.8,667.9 L223.8,664.4 L224.8,661.2 L225.8,658.3 L226.8,655.7 L227.8,653.4 L228.8,651.3 L229.8,649.6 L230.8,648.1 L231.8,646.9 L232.8,646.0 L233.8,645.4 L234.8,645.2 L235.8,645.3 L236.8,645.8 L237.8,646.6 L238.8,647.7 L239.8,649.0 L240.8,650.6 L241.8,652.4 L242.8,654.4 L243.8,656.6 L244.8,659.0 L245.8,661.6 L246.8,664.3 L247.8,667.2 L248.8,670.3 L249.8,673.5 L250.8,676.8 L251.8,680.2 L252.8,683.7 L253.8,687.3 L254.8,690.9 L255.8,694.5 L256.8,698.1 L257.8,701.8 L258.8,705.4 L259.8,708.9 L260.8,712.4 L261.8,715.7 L262.8,719.0 L263.8,722.1 L264.8,725.1 L265.8,727.9 L266.8,730.6 L267.8,733.2 L268.8,735.7 L269.8,738.0 L270.8,740.2 L271.8,742.3 L272.8,744.2 L273.8,745.9 L274.8,747.6 L275.8,749.0 L276.8,750.3 L277.8,751.4 L278.8,752.4 L279.8,753.2 L280.8,753.9 L281.8,754.5 L282.8,755.0 L283.8,755.4 L284.8,755.8 L285.8,756.1 L286.8,756.3 L287.8,756.4 L288.8,756.4 L289.8,756.4 L290.8,756.3 L291.8,756.1 L292.8,755.8 L293.8,755.4 L294.8,754.8 L295.8,754.0 L296.8,753.1 L297.8,752.0 L298.8,750.7 L299.8,749.2 L300.8,747.6 L301.8,745.8 L302.8,743.9 L303.8,741.9 L304.8,739.9 L305.8,737.8 L306.8,735.6 L307.8,733.5 L308.8,731.3 L309.8,729.1 L310.8,726.9 L311.8,724.7 L312.8,722.6 L313.8,720.5 L314.8,718.5 L315.8,716.5 L316.8,714.6 L317.8,712.8 L318.8,711.1 L319.8,709.5 L320.8,708.0 L321.8,706.6 L322.8,705.3 L323.8,704.1 L324.8,703.1 L325.8,702.1 L326.8,701.3 L327.8,700.5 L328.8,699.8 L329.8,699.2 L330.8,698.7 L331.8,698.3 L332.8,697.9 L333.8,697.6 L334.8,697.4 L335.8,697.2 L336.8,697.1 L337.8,697.1 L338.8,697.2 L339.8,697.3 L340.8,697.5 L341.8,697.8 L342.8,698.2 L343.8,698.7 L344.8,699.2 L345.8,699.8 L346.8,700.5 L347.8,701.3 L348.8,702.2 L349.8,703.2 L350.8,704.2 L351.8,705.3 L352.8,706.4 L353.8,707.6 L354.8,708.8 L355.8,710.0 L356.8,711.3 L357.8,712.6 L358.8,714.0 L359.8,715.4 L360.8,716.7 L361.8,718.2 L362.8,719.6 L363.8,721.0 L364.8,722.5 L365.8,723.9 L366.8,725.4 L367.8,726.8 L368.8,728.3 L369.8,729.7 L370.8,731.2 L371.8,732.6 L372.8,734.0 L373.8,735.4 L374.8,736.8 L375.8,738.2 L376.8,739.6 L377.8,741.0 L378.8,742.3 L379.8,743.6 L380.8,744.9 L381.8,746.2 L382.8,747.4 L383.8,748.6 L384.8,749.7 L385.8,750.7 L386.8,751.7 L387.8,752.6 L388.8,753.4 L389.8,754.1 L390.8,754.7 L391.8,755.3 L392.8,755.7 L393.8,756.1 L394.8,756.5 L395.8,756.7 L396.8,757.0 L397.8,757.1 L398.8,757.2 L399.8,757.3 L400.8,757.3 L401.8,757.2 L402.8,757.0 L403.8,756.8 L404.8,756.6 L405.8,756.2 L406.8,755.7 L407.8,755.2 L408.8,754.5 L409.8,753.8 L410.8,752.9 L411.8,751.9 L412.8,750.9 L413.8,749.8 L414.8,748.6 L415.8,747.4 L416.8,746.1 L417.8,744.8 L418.8,743.5 L419.8,742.2 L420.8,740.9 L421.8,739.6 L422.8,738.3 L423.8,737.1 L424.8,735.8 L425.8,734.6 L426.8,733.4 L427.8,732.2 L428.8,731.0 L429.8,729.9 L430.8,728.8 L431.8,727.7 L432.8,726.7 L433.8,725.8 L434.8,724.9 L435.8,724.2 L436.8,723.5 L437.8,722.9 L438.8,722.5 L439.8,722.1 L440.8,721.8 L441.8,721.6 L442.8,721.5 L443.8,721.4 L444.8,721.4 L445.8,721.5 L446.8,721.6 L447.8,721.8 L448.8,722.1 L449.8,722.4 L450.8,722.8 L451.8,723.2 L452.8,723.7 L453.8,724.2 L454.8,724.8 L455.8,725.4 L456.8,726.0 L457.8,726.6 L458.8,727.3 L459.8,728.0 L460.8,728.7 L461.8,729.4 L462.8,730.1 L463.8,730.8 L464.8,731.4 L465.8,732.1 L466.8,732.8 L467.8,733.4 L468.8,734.0 L469.8,734.6 L470.8,735.2 L471.8,735.7 L472.8,736.3 L473.8,736.8 L474.8,737.3 L475.8,737.7 L476.8,738.2 L477.8,738.6 L478.8,738.9 L479.8,739.3 L480.8,739.6 L481.8,739.8 L482.8,740.1 L483.8,740.3 L484.8,740.4 L485.8,740.6 L486.8,740.6 L487.8,740.7 L488.8,740.7 L489.8,740.7 L490.8,740.6 L491.8,740.5 L492.8,740.3 L493.8,740.2 L494.8,740.0 L495.8,739.7 L496.8,739.5 L497.8,739.2 L498.8,738.8 L499.8,738.5 L500.8,738.1 L501.8,737.7 L502.8,737.3 L503.8,736.9 L504.8,736.5 L505.8,736.0 L506.8,735.6 L507.8,735.1 L508.8,734.6 L509.8,734.1 L510.8,733.6 L511.8,733.2 L512.8,732.7 L513.8,732.2 L514.8,731.7 L515.8,731.2 L516.8,730.7 L517.8,730.3 L518.8,729.8 L519.8,729.4 L520.8,728.9 L521.8,728.5 L522.8,728.1 L523.8,727.6 L524.8,727.2 L525.8,726.9 L526.8,726.5 L527.8,726.1 L528.8,725.8 L529.8,725.5 L530.8,725.2 L531.8,724.9 L532.8,724.6 L533.8,724.4 L534.8,724.2 L535.8,724.0 L536.8,723.8 L537.8,723.7 L538.8,723.5 L539.8,723.4 L540.8,723.4 L541.8,723.3 L542.8,723.3 L543.8,723.3 L544.8,723.4 L545.8,723.5 L546.8,723.6 L547.8,723.8 L548.8,723.9 L549.8,724.2 L550.8,724.4 L551.8,724.7 L552.8,725.0 L553.8,725.4 L554.8,725.8 L555.8,726.2 L556.8,726.7 L557.8,727.2 L558.8,727.7 L559.8,728.2 L560.8,728.8 L561.8,729.4 L562.8,730.0 L563.8,730.6 L564.8,731.2 L565.8,731.8 L566.8,732.4 L567.8,733.0 L568.8,733.6 L569.8,734.2 L570.8,734.8 L571.8,735.3 L572.8,735.9 L573.8,736.4 L574.8,737.0 L575.8,737.5 L576.8,738.0 L577.8,738.5 L578.8,739.0 L579.8,739.5 L580.8,739.9 L581.8,740.4 L582.8,740.8 L583.8,741.3 L584.8,741.7 L585.8,742.0 L586.8,742.4 L587.8,742.8 L588.8,743.1 L589.8,743.4 L590.8,743.7 L591.8,743.9 L592.8,744.1 L593.8,744.3 L594.8,744.4 L595.8,744.5 L596.8,744.5 L597.8,744.5 L598.8,744.4 L599.8,744.3 L600.8,744.1 L601.8,743.8 L602.8,743.5 L603.8,743.1 L604.8,742.6 L605.8,742.0 L606.8,741.4 L607.8,740.8 L608.8,740.0 L609.8,739.2 L610.8,738.4 L611.8,737.5 L612.8,736.6 L613.8,735.6 L614.8,734.5 L615.8,733.4 L616.8,732.3 L617.8,731.2 L618.8,730.0 L619.8,728.8 L620.8,727.6 L621.8,726.3 L622.8,725.1 L623.8,723.8 L624.8,722.5 L625.8,721.2 L626.8,719.9 L627.8,718.6 L628.8,717.3 L629.8,716.1 L630.8,714.8 L631.8,713.6 L632.8,712.4 L633.8,711.3 L634.8,710.2 L635.8,709.2 L636.8,708.3 L637.8,707.5 L638.8,706.8 L639.8,706.2 L640.8,705.6 L641.8,705.2 L642.8,704.8 L643.8,704.5 L644.8,704.3 L645.8,704.2 L646.8,704.1 L647.8,704.1 L648.8,704.1 L649.8,704.3 L650.8,704.5 L651.8,704.7 L652.8,705.1 L653.8,705.5 L654.8,706.0 L655.8,706.5 L656.8,707.2 L657.8,707.8 L658.8,708.6 L659.8,709.4 L660.8,710.2 L661.8,711.1 L662.8,712.1 L663.8,713.1 L664.8,714.2 L665.8,715.4 L666.8,716.5 L667.8,717.7 L668.8,719.0 L669.8,720.3 L670.8,721.5 L671.8,722.8 L672.8,724.1 L673.8,725.4 L674.8,726.7 L675.8,727.9 L676.8,729.2 L677.8,730.4 L678.8,731.6 L679.8,732.7 L680.8,733.8 L681.8,734.9 L682.8,736.0 L683.8,737.0 L684.8,738.0 L685.8,738.9 L686.8,739.8 L687.8,740.7 L688.8,741.5 L689.8,742.2 L690.8,742.9 L691.8,743.6 L692.8,744.2 L693.8,744.7 L694.8,745.2 L695.8,745.6 L696.8,746.0 L697.8,746.3 L698.8,746.6 L699.8,746.8 L700.8,747.0 L701.8,747.2 L702.8,747.3 L703.8,747.4 L704.8,747.4 L705.8,747.4 L706.8,747.4 L707.8,747.4 L708.8,747.3 L709.8,747.2 L710.8,747.1 L711.8,746.9 L712.8,746.7 L713.8,746.4 L714.8,746.1 L715.8,745.7 L716.8,745.3 L717.8,744.8 L718.8,744.3 L719.8,743.7 L720.8,743.1 L721.8,742.4 L722.8,741.6 L723.8,740.8 L724.8,740.0 L725.8,739.1 L726.8,738.2 L727.8,737.3 L728.8,736.4 L729.8,735.4 L730.8,734.4 L731.8,733.4 L732.8,732.4 L733.8,731.3 L734.8,730.3 L735.8,729.3 L736.8,728.3 L737.8,727.3 L738.8,726.3 L739.8,725.4 L740.8,724.4 L741.8,723.5 L742.8,722.7 L743.8,721.9 L744.8,721.1 L745.8,720.4 L746.8,719.7 L747.8,719.1 L748.8,718.6 L749.8,718.1 L750.8,717.6 L751.8,717.2 L752.8,716.9 L753.8,716.6 L754.8,716.3 L755.8,716.0 L756.8,715.8 L757.8,715.6 L758.8,715.5 L759.8,715.3 L760.8,715.2 L761.8,715.2 L762.8,715.2 L763.8,715.3 L764.8,715.4 L765.8,715.5 L766.8,715.8 L767.8,716.0 L768.8,716.4 L769.8,716.8 L770.8,717.2 L771.8,717.7 L772.8,718.2 L773.8,718.8 L774.8,719.5 L775.8,720.2 L776.8,720.9 L777.8,721.6 L778.8,722.4 L779.8,723.2 L780.8,724.0 L781.8,724.8 L782.8,725.6 L783.8,726.4 L784.8,727.3 L785.8,728.1 L786.8,728.9 L787.8,729.7 L788.8,730.5 L789.8,731.3 L790.8,732.1 L791.8,732.9 L792.8,733.7 L793.8,734.4 L794.8,735.1 L795.8,735.8 L796.8,736.5 L797.8,737.1 L798.8,737.7 L799.8,738.3 L800.8,738.9 L801.8,739.5 L802.8,740.0 L803.8,740.5 L804.8,740.9 L805.8,741.4 L806.8,741.8 L807.8,742.2 L808.8,742.5 L809.8,742.8 L810.8,743.1 L811.8,743.4 L812.8,743.6 L813.8,743.8 L814.8,744.0 L815.8,744.2 L816.8,744.3 L817.8,744.4 L818.8,744.4 L819.8,744.5 L820.8,744.4 L821.8,744.4 L822.8,744.3 L823.8,744.1 L824.8,743.9 L825.8,743.7 L826.8,743.4 L827.8,743.2 L828.8,742.8 L829.8,742.5 L830.8,742.1 L831.8,741.8 L832.8,741.4 L833.8,741.0 L834.5,740.7" stroke="#000" stroke-width="3.7"/>
<path d="M98.8,916.0 L99.8,916.9 L100.8,917.8 L101.8,918.8 L102.8,919.7 L103.8,920.6 L104.8,921.5 L105.8,922.4 L106.8,923.3 L107.8,924.1 L108.8,925.0 L109.8,925.9 L110.8,926.7 L111.8,927.6 L112.8,928.4 L113.8,929.3 L114.8,930.1 L115.8,930.9 L116.8,931.7 L117.8,932.5 L118.8,933.3 L119.8,934.1 L120.8,934.9 L121.8,935.7 L122.8,936.6 L123.8,937.4 L124.8,938.2 L125.8,939.0 L126.8,939.8 L127.8,940.7 L128.8,941.5 L129.8,942.4 L130.8,943.3 L131.8,944.2 L132.8,945.1 L133.8,946.1 L134.8,947.0 L135.8,948.0 L136.8,949.1 L137.8,950.1 L138.8,951.2 L139.8,952.3 L140.8,953.4 L141.8,954.5 L142.8,955.7 L143.8,956.9 L144.8,958.1 L145.8,959.3 L146.8,960.5 L147.8,961.8 L148.8,963.0 L149.8,964.2 L150.8,965.5 L151.8,966.7 L152.8,967.9 L153.8,969.2 L154.8,970.4 L155.8,971.6 L156.8,972.7 L157.8,973.9 L158.8,975.1 L159.8,976.2 L160.8,977.3 L161.8,978.4 L162.8,979.5 L163.8,980.4 L164.8,981.4 L165.8,982.2 L166.8,983.0 L167.8,983.7 L168.8,984.4 L169.8,984.9 L170.8,985.4 L171.8,985.8 L172.8,986.2 L173.8,986.6 L174.8,986.8 L175.8,987.0 L176.8,987.0 L177.8,986.9 L178.8,986.7 L179.8,986.3 L180.8,985.8 L181.8,985.2 L182.8,984.5 L183.8,983.7 L184.8,982.7 L185.8,981.6 L186.8,980.3 L187.8,978.9 L188.8,977.3 L189.8,975.5 L190.8,973.5 L191.8,971.5 L192.8,969.3 L193.8,967.0 L194.8,964.7 L195.8,962.3 L196.8,959.8 L197.8,957.3 L198.8,954.8 L199.8,952.1 L200.8,949.4 L201.8,946.6 L202.8,943.7 L203.8,940.7 L204.8,937.5 L205.8,934.4 L206.8,931.1 L207.8,927.8 L208.8,924.4 L209.8,921.0 L210.8,917.6 L211.8,914.1 L212.8,910.6 L213.8,907.0 L214.8,903.4 L215.8,899.8 L216.8,896.1 L217.8,892.4 L218.8,888.7 L219.8,885.0 L220.8,881.4 L221.8,877.9 L222.8,874.5 L223.8,871.2 L224.8,868.0 L225.8,865.0 L226.8,862.1 L227.8,859.4 L228.8,857.0 L229.8,854.7 L230.8,852.6 L231.8,850.8 L232.8,849.2 L233.8,847.8 L234.8,846.6 L235.8,845.7 L236.8,844.9 L237.8,844.3 L238.8,843.9 L239.8,843.6 L240.8,843.5 L241.8,843.5 L242.8,843.7 L243.8,844.1 L244.8,844.6 L245.8,845.4 L246.8,846.4 L247.8,847.7 L248.8,849.1 L249.8,850.7 L250.8,852.5 L251.8,854.4 L252.8,856.4 L253.8,858.5 L254.8,860.6 L255.8,862.9 L256.8,865.2 L257.8,867.5 L258.8,870.0 L259.8,872.5 L260.8,875.0 L261.8,877.6 L262.8,880.3 L263.8,883.0 L264.8,885.7 L265.8,888.5 L266.8,891.4 L267.8,894.2 L268.8,897.2 L269.8,900.1 L270.8,903.1 L271.8,906.0 L272.8,908.9 L273.8,911.7 L274.8,914.4 L275.8,917.0 L276.8,919.4 L277.8,921.6 L278.8,923.7 L279.8,925.6 L280.8,927.4 L281.8,929.1 L282.8,930.7 L283.8,932.1 L284.8,933.4 L285.8,934.6 L286.8,935.7 L287.8,936.7 L288.8,937.6 L289.8,938.3 L290.8,938.9 L291.8,939.4 L292.8,939.7 L293.8,940.0 L294.8,940.1 L295.8,940.1 L296.8,939.9 L297.8,939.7 L298.8,939.3 L299.8,938.9 L300.8,938.3 L301.8,937.6 L302.8,936.8 L303.8,935.9 L304.8,934.9 L305.8,933.8 L306.8,932.7 L307.8,931.4 L308.8,930.1 L309.8,928.8 L310.8,927.3 L311.8,925.8 L312.8,924.2 L313.8,922.7 L314.8,921.0 L315.8,919.4 L316.8,917.7 L317.8,916.0 L318.8,914.4 L319.8,912.7 L320.8,911.1 L321.8,909.5 L322.8,907.9 L323.8,906.4 L324.8,904.9 L325.8,903.4 L326.8,901.9 L327.8,900.5 L328.8,899.0 L329.8,897.6 L330.8,896.3 L331.8,895.0 L332.8,893.7 L333.8,892.5 L334.8,891.4 L335.8,890.4 L336.8,889.5 L337.8,888.6 L338.8,888.0 L339.8,887.4 L340.8,887.0 L341.8,886.6 L342.8,886.3 L343.8,886.2 L344.8,886.0 L345.8,886.0 L346.8,886.0 L347.8,886.1 L348.8,886.2 L349.8,886.5 L350.8,886.8 L351.8,887.2 L352.8,887.6 L353.8,888.2 L354.8,888.9 L355.8,889.7 L356.8,890.5 L357.8,891.5 L358.8,892.5 L359.8,893.6 L360.8,894.8 L361.8,896.0 L362.8,897.3 L363.8,898.6 L364.8,899.9 L365.8,901.3 L366.8,902.7 L367.8,904.1 L368.8,905.6 L369.8,907.1 L370.8,908.5 L371.8,910.0 L372.8,911.5 L373.8,913.0 L374.8,914.6 L375.8,916.1 L376.8,917.6 L377.8,919.1 L378.8,920.5 L379.8,922.0 L380.8,923.4 L381.8,924.9 L382.8,926.2 L383.8,927.6 L384.8,928.9 L385.8,930.2 L386.8,931.5 L387.8,932.7 L388.8,933.8 L389.8,935.0 L390.8,936.1 L391.8,937.1 L392.8,938.1 L393.8,939.1 L394.8,940.1 L395.8,941.0 L396.8,941.8 L397.8,942.6 L398.8,943.3 L399.8,944.0 L400.8,944.6 L401.8,945.1 L402.8,945.5 L403.8,945.8 L404.8,946.1 L405.8,946.3 L406.8,946.5 L407.8,946.6 L408.8,946.5 L409.8,946.5 L410.8,946.3 L411.8,946.0 L412.8,945.7 L413.8,945.3 L414.8,944.8 L415.8,944.2 L416.8,943.6 L417.8,942.8 L418.8,942.1 L419.8,941.2 L420.8,940.3 L421.8,939.4 L422.8,938.4 L423.8,937.4 L424.8,936.3 L425.8,935.2 L426.8,934.1 L427.8,933.0 L428.8,931.9 L429.8,930.8 L430.8,929.6 L431.8,928.5 L432.8,927.4 L433.8,926.3 L434.8,925.3 L435.8,924.2 L436.8,923.2 L437.8,922.2 L438.8,921.2 L439.8,920.3 L440.8,919.4 L441.8,918.5 L442.8,917.7 L443.8,916.9 L444.8,916.1 L445.8,915.4 L446.8,914.7 L447.8,914.1 L448.8,913.5 L449.8,913.0 L450.8,912.5 L451.8,912.1 L452.8,911.7 L453.8,911.4 L454.8,911.1 L455.8,910.8 L456.8,910.6 L457.8,910.4 L458.8,910.2 L459.8,910.0 L460.8,909.9 L461.8,909.8 L462.8,909.7 L463.8,909.6 L464.8,909.6 L465.8,909.6 L466.8,909.7 L467.8,909.8 L468.8,909.9 L469.8,910.0 L470.8,910.2 L471.8,910.4 L472.8,910.6 L473.8,910.9 L474.8,911.1 L475.8,911.4 L476.8,911.7 L477.8,912.0 L478.8,912.3 L479.8,912.6 L480.8,912.9 L481.8,913.3 L482.8,913.6 L483.8,913.9 L484.8,914.2 L485.8,914.5 L486.8,914.8 L487.8,915.0 L488.8,915.3 L489.8,915.6 L490.8,915.9 L491.8,916.2 L492.8,916.4 L493.8,916.7 L494.8,916.9 L495.8,917.1 L496.8,917.3 L497.8,917.5 L498.8,917.7 L499.8,917.9 L500.8,918.0 L501.8,918.1 L502.8,918.2 L503.8,918.3 L504.8,918.3 L505.8,918.3 L506.8,918.3 L507.8,918.2 L508.8,918.1 L509.8,918.0 L510.8,917.8 L511.8,917.7 L512.8,917.5 L513.8,917.3 L514.8,917.1 L515.8,916.9 L516.8,916.7 L517.8,916.5 L518.8,916.3 L519.8,916.1 L520.8,915.9 L521.8,915.7 L522.8,915.5 L523.8,915.3 L524.8,915.1 L525.8,914.9 L526.8,914.7 L527.8,914.5 L528.8,914.3 L529.8,914.1 L530.8,913.9 L531.8,913.7 L532.8,913.6 L533.8,913.4 L534.8,913.2 L535.8,913.1 L536.8,913.0 L537.8,912.9 L538.8,912.8 L539.8,912.7 L540.8,912.6 L541.8,912.6 L542.8,912.6 L543.8,912.6 L544.8,912.6 L545.8,912.6 L546.8,912.7 L547.8,912.8 L548.8,912.8 L549.8,913.0 L550.8,913.1 L551.8,913.2 L552.8,913.4 L553.8,913.5 L554.8,913.7 L555.8,913.9 L556.8,914.1 L557.8,914.3 L558.8,914.5 L559.8,914.7 L560.8,915.0 L561.8,915.2 L562.8,915.4 L563.8,915.7 L564.8,916.0 L565.8,916.2 L566.8,916.5 L567.8,916.8 L568.8,917.1 L569.8,917.3 L570.8,917.6 L571.8,917.9 L572.8,918.1 L573.8,918.4 L574.8,918.6 L575.8,918.8 L576.8,919.0 L577.8,919.2 L578.8,919.4 L579.8,919.6 L580.8,919.7 L581.8,919.9 L582.8,920.0 L583.8,920.1 L584.8,920.2 L585.8,920.3 L586.8,920.4 L587.8,920.5 L588.8,920.5 L589.8,920.6 L590.8,920.6 L591.8,920.6 L592.8,920.6 L593.8,920.6 L594.8,920.6 L595.8,920.5 L596.8,920.4 L597.8,920.2 L598.8,920.0 L599.8,919.8 L600.8,919.6 L601.8,919.3 L602.8,919.0 L603.8,918.7 L604.8,918.3 L605.8,917.9 L606.8,917.5 L607.8,917.1 L608.8,916.6 L609.8,916.1 L610.8,915.6 L611.8,915.1 L612.8,914.5 L613.8,914.0 L614.8,913.4 L615.8,912.8 L616.8,912.2 L617.8,911.6 L618.8,910.9 L619.8,910.3 L620.8,909.7 L621.8,909.0 L622.8,908.4 L623.8,907.8 L624.8,907.1 L625.8,906.5 L626.8,905.9 L627.8,905.3 L628.8,904.8 L629.8,904.2 L630.8,903.7 L631.8,903.2 L632.8,902.7 L633.8,902.2 L634.8,901.8 L635.8,901.3 L636.8,900.9 L637.8,900.6 L638.8,900.2 L639.8,899.9 L640.8,899.7 L641.8,899.4 L642.8,899.2 L643.8,899.1 L644.8,898.9 L645.8,898.9 L646.8,898.8 L647.8,898.8 L648.8,898.8 L649.8,898.9 L650.8,899.0 L651.8,899.2 L652.8,899.4 L653.8,899.7 L654.8,899.9 L655.8,900.3 L656.8,900.6 L657.8,901.0 L658.8,901.5 L659.8,902.0 L660.8,902.5 L661.8,903.0 L662.8,903.6 L663.8,904.2 L664.8,904.8 L665.8,905.5 L666.8,906.2 L667.8,906.9 L668.8,907.6 L669.8,908.4 L670.8,909.1 L671.8,909.9 L672.8,910.6 L673.8,911.4 L674.8,912.2 L675.8,912.9 L676.8,913.7 L677.8,914.4 L678.8,915.2 L679.8,915.9 L680.8,916.6 L681.8,917.3 L682.8,917.9 L683.8,918.6 L684.8,919.2 L685.8,919.8 L686.8,920.4 L687.8,920.9 L688.8,921.5 L689.8,922.0 L690.8,922.5 L691.8,923.0 L692.8,923.5 L693.8,923.9 L694.8,924.3 L695.8,924.7 L696.8,925.1 L697.8,925.5 L698.8,925.8 L699.8,926.1 L700.8,926.4 L701.8,926.7 L702.8,926.9 L703.8,927.1 L704.8,927.3 L705.8,927.5 L706.8,927.6 L707.8,927.8 L708.8,927.8 L709.8,927.9 L710.8,927.9 L711.8,927.9 L712.8,927.9 L713.8,927.8 L714.8,927.7 L715.8,927.6 L716.8,927.5 L717.8,927.3 L718.8,927.0 L719.8,926.8 L720.8,926.5 L721.8,926.2 L722.8,925.9 L723.8,925.5 L724.8,925.2 L725.8,924.7 L726.8,924.3 L727.8,923.9 L728.8,923.4 L729.8,922.9 L730.8,922.4 L731.8,921.8 L732.8,921.3 L733.8,920.7 L734.8,920.1 L735.8,919.5 L736.8,918.9 L737.8,918.3 L738.8,917.7 L739.8,917.1 L740.8,916.4 L741.8,915.8 L742.8,915.2 L743.8,914.6 L744.8,914.0 L745.8,913.4 L746.8,912.9 L747.8,912.3 L748.8,911.8 L749.8,911.3 L750.8,910.8 L751.8,910.4 L752.8,910.0 L753.8,909.6 L754.8,909.3 L755.8,908.9 L756.8,908.6 L757.8,908.4 L758.8,908.1 L759.8,907.9 L760.8,907.8 L761.8,907.6 L762.8,907.5 L763.8,907.4 L764.8,907.4 L765.8,907.4 L766.8,907.4 L767.8,907.4 L768.8,907.5 L769.8,907.6 L770.8,907.8 L771.8,908.0 L772.8,908.2 L773.8,908.5 L774.8,908.7 L775.8,909.0 L776.8,909.4 L777.8,909.7 L778.8,910.1 L779.8,910.6 L780.8,911.0 L781.8,911.5 L782.8,912.0 L783.8,912.5 L784.8,913.0 L785.8,913.6 L786.8,914.1 L787.8,914.7 L788.8,915.3 L789.8,915.8 L790.8,916.4 L791.8,917.0 L792.8,917.6 L793.8,918.2 L794.8,918.7 L795.8,919.3 L796.8,919.9 L797.8,920.4 L798.8,921.0 L799.8,921.5 L800.8,922.0 L801.8,922.5 L802.8,923.0 L803.8,923.4 L804.8,923.8 L805.8,924.2 L806.8,924.6 L807.8,925.0 L808.8,925.3 L809.8,925.6 L810.8,925.9 L811.8,926.2 L812.8,926.5 L813.8,926.8 L814.8,927.1 L815.8,927.3 L816.8,927.6 L817.8,927.8 L818.8,928.0 L819.8,928.2 L820.8,928.4 L821.8,928.5 L822.8,928.6 L823.8,928.7 L824.8,928.7 L825.8,928.7 L826.8,928.6 L827.8,928.5 L828.8,928.4 L829.8,928.2 L830.8,928.0 L831.8,927.8 L832.8,927.6 L833.8,927.4 L834.5,927.2" stroke="#000" stroke-width="3.7"/>
</g>
<g stroke="#000" stroke-width="2.5" fill="none">
<rect x="99.1" y="3.4" width="735.65" height="1016.40"/>
<line x1="99.1" y1="206.6" x2="834.75" y2="206.6"/>
<line x1="99.1" y1="410.3" x2="834.75" y2="410.3"/>
<line x1="99.1" y1="613.5" x2="834.75" y2="613.5"/>
<line x1="99.1" y1="817.1" x2="834.75" y2="817.1"/>
</g>
<g font-size="26" text-anchor="end" fill="#000">
<text x="83" y="52.8">1</text>
<text x="83" y="122.9">0</text>
<text x="83" y="193.0">-1</text>
<text x="83" y="267.6">1</text>
<text x="83" y="327.4">0</text>
<text x="83" y="387.2">-1</text>
<text x="83" y="460.0">1</text>
<text x="83" y="531.3">0</text>
<text x="83" y="602.6">-1</text>
<text x="83" y="668.8">1</text>
<text x="83" y="737.7">0</text>
<text x="83" y="806.6">-1</text>
<text x="83" y="840.1">1</text>
<text x="83" y="923.1">0</text>
<text x="83" y="1006.1">-1</text>
</g>
<g font-size="26" text-anchor="middle" fill="#000">
<text x="99.1" y="1054.8">0</text>
<text x="148.1" y="1054.8">1</text>
<text x="197.2" y="1054.8">2</text>
<text x="246.2" y="1054.8">3</text>
<text x="295.3" y="1054.8">4</text>
<text x="344.3" y="1054.8">5</text>
<text x="393.4" y="1054.8">6</text>
<text x="442.4" y="1054.8">7</text>
<text x="491.4" y="1054.8">8</text>
<text x="540.5" y="1054.8">9</text>
<text x="589.5" y="1054.8">10</text>
<text x="638.6" y="1054.8">11</text>
<text x="687.6" y="1054.8">12</text>
<text x="736.7" y="1054.8">13</text>
<text x="785.7" y="1054.8">14</text>
<text x="834.8" y="1054.8">15</text>
</g>
<g font-size="20.8" fill="#000">
<text transform="translate(586.1,171.8) scale(1.058,1)">16.2 GPa/938 K</text>
<text transform="translate(595.7,373) scale(1.058,1)">11 GPa/863 K</text>
<text transform="translate(587.9,574.9) scale(1.058,1)">6.3 GPa/823 K</text>
<text transform="translate(586.0,773.7) scale(1.058,1)">5.5 GPa/863 K</text>
<text transform="translate(587.5,973.3) scale(1.058,1)">1.5 GPa/803 K</text>
</g>
<circle cx="614.5" cy="36.4" r="6.5" fill="#868686"/>
<text transform="translate(651.2,45.4) scale(1.09,1)" font-size="24.6" fill="#868686">experiment</text>
<line x1="583.6" y1="69" x2="645.7" y2="69" stroke="#000" stroke-width="3.7"/>
<text transform="translate(651.6,78) scale(1.09,1)" font-size="24.4" fill="#000">EPSR</text>
<text x="468" y="1112.7" font-size="38.8" text-anchor="middle" fill="#000">r (Angstrom)</text>
<text transform="translate(29.8,526.7) rotate(-90)" font-size="38" text-anchor="middle" fill="#000">G(r)</text>
</svg>
</body></html>
